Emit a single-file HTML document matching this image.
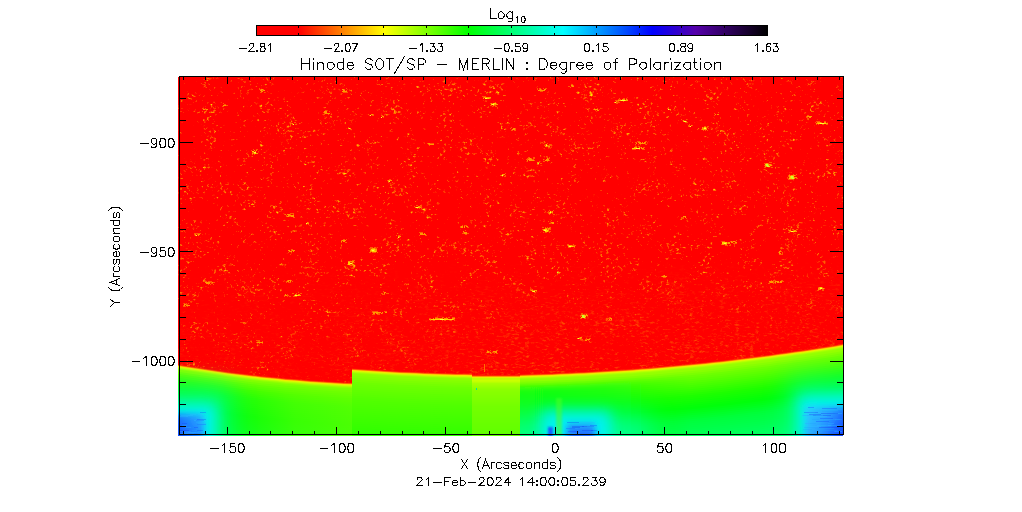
<!DOCTYPE html><html><head><meta charset="utf-8"><title>Hinode SOT/SP</title>
<style>html,body{margin:0;padding:0;background:#fff;overflow:hidden}svg{display:block}text{font-family:"Liberation Sans",sans-serif;fill:#000}</style></head><body>
<svg width="1022" height="512" viewBox="0 0 1022 512" shape-rendering="crispEdges">
<defs>
<linearGradient id="cb" x1="0" y1="0" x2="1" y2="0">
<stop offset="0" stop-color="#ff0000"/>
<stop offset="0.082" stop-color="#ff0000"/>
<stop offset="0.25" stop-color="#ffff00"/>
<stop offset="0.415" stop-color="#00ff00"/>
<stop offset="0.6" stop-color="#00ffff"/>
<stop offset="0.775" stop-color="#0000ff"/>
<stop offset="0.86" stop-color="#5500aa"/>
<stop offset="1" stop-color="#000000"/>
</linearGradient>
<clipPath id="ic"><rect x="178" y="77" width="665" height="359"/></clipPath>
<path id="s1" d="M178.0 366.16 L186.3 367.53 L194.6 368.85 L202.9 370.12 L211.1 371.34 L219.4 372.52 L227.7 373.64 L236.0 374.71 L244.3 375.74 L252.6 376.71 L260.9 377.64 L269.1 378.52 L277.4 379.35 L285.7 380.13 L294.0 380.85 L302.3 381.54 L310.6 382.17 L318.9 382.75 L327.1 383.28 L335.4 383.76 L343.7 384.20 L352.0 384.58 L352 700 L178 700Z"/>
<path id="s2" d="M352.0 370.16 L360.0 370.74 L368.0 371.28 L376.0 371.79 L384.0 372.27 L392.0 372.72 L400.0 373.13 L408.0 373.51 L416.0 373.86 L424.0 374.18 L432.0 374.47 L440.0 374.72 L448.0 374.94 L456.0 375.13 L464.0 375.29 L472.0 375.41 L472 700 L352 700Z"/>
<path id="s3" d="M472.0 377.00 L480.0 377.00 L488.0 377.00 L496.0 377.00 L504.0 377.00 L512.0 377.00 L520.0 377.00 L520 700 L472 700Z"/>
<path id="s4" d="M520.0 376.17 L528.1 375.96 L536.1 375.73 L544.2 375.46 L552.3 375.17 L560.4 374.84 L568.5 374.49 L576.5 374.11 L584.6 373.70 L592.7 373.26 L600.8 372.80 L608.8 372.30 L616.9 371.78 L625.0 371.23 L633.0 370.65 L641.1 370.04 L649.2 369.40 L657.3 368.74 L665.4 368.04 L673.4 367.32 L681.5 366.57 L689.6 365.79 L697.6 364.98 L705.7 364.14 L713.8 363.28 L721.9 362.39 L730.0 361.46 L738.0 360.51 L746.1 359.53 L754.2 358.52 L762.2 357.49 L770.3 356.42 L778.4 355.33 L786.5 354.21 L794.5 353.06 L802.6 351.88 L810.7 350.67 L818.8 349.43 L826.9 348.17 L834.9 346.88 L843.0 345.55 L843 700 L520 700Z"/>
<filter id="nz" x="0" y="0" width="1" height="1" color-interpolation-filters="sRGB"><feTurbulence type="fractalNoise" baseFrequency="0.3 0.36" numOctaves="3" seed="7"/><feColorMatrix values="1 0 0 0 0 0 1 0 0 0 0 0 1 0 0 0 0 0 0 1" result="a"/><feTurbulence type="fractalNoise" baseFrequency="0.05" numOctaves="2" seed="27"/><feColorMatrix values="1 0 0 0 0 0 1 0 0 0 0 0 1 0 0 0 0 0 0 1" result="b"/><feComposite in="a" in2="b" operator="arithmetic" k1="0" k2="1" k3="0.5" k4="-0.25"/><feColorMatrix values="0 0 0 0 1  2.6 0 0 0 -1.73  0 0 0 0 0  0 0 0 0 1"/></filter>
<filter id="nz2" x="0" y="0" width="1" height="1" color-interpolation-filters="sRGB"><feTurbulence type="fractalNoise" baseFrequency="0.2 0.45" numOctaves="3" seed="3"/><feColorMatrix values="1 0 0 0 0 0 1 0 0 0 0 0 1 0 0 0 0 0 0 1" result="a"/><feTurbulence type="fractalNoise" baseFrequency="0.03" numOctaves="2" seed="23"/><feColorMatrix values="1 0 0 0 0 0 1 0 0 0 0 0 1 0 0 0 0 0 0 1" result="b"/><feComposite in="a" in2="b" operator="arithmetic" k1="0" k2="1" k3="0.3" k4="-0.15"/><feColorMatrix values="0 0 0 0 1  1.1 0 0 0 -0.62  0 0 0 0 0  0 0 0 0 1"/></filter>
<linearGradient id="fade" x1="0" y1="0" x2="0" y2="1"><stop offset="0" stop-color="#fff" stop-opacity="0"/><stop offset="0.6" stop-color="#fff" stop-opacity="0.8"/><stop offset="1" stop-color="#fff" stop-opacity="1"/></linearGradient>
<linearGradient id="hf" x1="0" y1="0" x2="1" y2="0"><stop offset="0" stop-color="#000" stop-opacity="0.8"/><stop offset="0.3" stop-color="#000" stop-opacity="0.6"/><stop offset="0.6" stop-color="#000" stop-opacity="0"/></linearGradient>
<mask id="mk" maskUnits="userSpaceOnUse" x="178" y="260" width="665" height="140"><rect x="178" y="260" width="665" height="140" fill="url(#fade)"/><rect x="178" y="260" width="665" height="140" fill="url(#hf)"/></mask>
<radialGradient id="bl" cx="0" cy="0" r="1" gradientTransform="translate(176 440) scale(64 64)" gradientUnits="userSpaceOnUse"><stop offset="0" stop-color="#1020ff" stop-opacity="1"/><stop offset="0.3" stop-color="#1048ff" stop-opacity="1"/><stop offset="0.44" stop-color="#0890ff" stop-opacity="1"/><stop offset="0.56" stop-color="#00e0ff" stop-opacity="0.95"/><stop offset="0.7" stop-color="#00ffc0" stop-opacity="0.7"/><stop offset="0.85" stop-color="#00ff70" stop-opacity="0.35"/><stop offset="1" stop-color="#00ff40" stop-opacity="0"/></radialGradient>
<radialGradient id="br" cx="0" cy="0" r="1" gradientTransform="translate(847 441) scale(88 78)" gradientUnits="userSpaceOnUse"><stop offset="0" stop-color="#1020ff" stop-opacity="1"/><stop offset="0.3" stop-color="#1040ff" stop-opacity="1"/><stop offset="0.45" stop-color="#0880ff" stop-opacity="1"/><stop offset="0.56" stop-color="#00d8ff" stop-opacity="0.95"/><stop offset="0.68" stop-color="#00ffd0" stop-opacity="0.75"/><stop offset="0.84" stop-color="#00ff80" stop-opacity="0.35"/><stop offset="1" stop-color="#00ff40" stop-opacity="0"/></radialGradient>
<radialGradient id="bm" cx="0" cy="0" r="1" gradientTransform="translate(579 441) scale(52 46)" gradientUnits="userSpaceOnUse"><stop offset="0" stop-color="#1028ff" stop-opacity="1"/><stop offset="0.22" stop-color="#1050ff" stop-opacity="1"/><stop offset="0.36" stop-color="#0890ff" stop-opacity="1"/><stop offset="0.5" stop-color="#00e0ff" stop-opacity="0.9"/><stop offset="0.66" stop-color="#00ffc8" stop-opacity="0.65"/><stop offset="0.84" stop-color="#00ff80" stop-opacity="0.3"/><stop offset="1" stop-color="#00ff40" stop-opacity="0"/></radialGradient>
<radialGradient id="bm2" cx="0" cy="0" r="1" gradientTransform="translate(550 440) scale(16 30)" gradientUnits="userSpaceOnUse"><stop offset="0" stop-color="#1040ff" stop-opacity="1"/><stop offset="0.3" stop-color="#1070ff" stop-opacity="1"/><stop offset="0.55" stop-color="#00d0ff" stop-opacity="0.8"/><stop offset="1" stop-color="#00ffa0" stop-opacity="0"/></radialGradient>
<linearGradient id="le" x1="0" y1="0" x2="1" y2="0"><stop offset="0" stop-color="#00ffb0" stop-opacity="0.7"/><stop offset="1" stop-color="#00ff60" stop-opacity="0"/></linearGradient>
<linearGradient id="re" x1="1" y1="0" x2="0" y2="0"><stop offset="0" stop-color="#00ffc0" stop-opacity="0.8"/><stop offset="1" stop-color="#00ff60" stop-opacity="0"/></linearGradient>
<linearGradient id="vf" x1="0" y1="0" x2="0" y2="1"><stop offset="0" stop-color="#fff" stop-opacity="0"/><stop offset="1" stop-color="#fff" stop-opacity="1"/></linearGradient>
<mask id="mle" maskUnits="userSpaceOnUse" x="178" y="375" width="30" height="61"><rect x="178" y="375" width="30" height="61" fill="url(#vf)"/></mask>
<mask id="mre" maskUnits="userSpaceOnUse" x="790" y="350" width="53" height="86"><rect x="790" y="350" width="53" height="86" fill="url(#vf)"/></mask>
<filter id="sb" x="-1" y="-1" width="3" height="3"><feGaussianBlur stdDeviation="0.55"/></filter>
</defs>
<rect width="1022" height="512" fill="#fff"/>
<rect x="256" y="25" width="512" height="11" fill="#000"/>
<rect x="257" y="26" width="510" height="9" fill="url(#cb)"/>
<rect x="298" y="25" width="1" height="3" fill="#000"/><rect x="298" y="33" width="1" height="3" fill="#000"/>
<rect x="341" y="25" width="1" height="3" fill="#000"/><rect x="341" y="33" width="1" height="3" fill="#000"/>
<rect x="383" y="25" width="1" height="3" fill="#000"/><rect x="383" y="33" width="1" height="3" fill="#000"/>
<rect x="426" y="25" width="1" height="3" fill="#000"/><rect x="426" y="33" width="1" height="3" fill="#000"/>
<rect x="468" y="25" width="1" height="3" fill="#000"/><rect x="468" y="33" width="1" height="3" fill="#000"/>
<rect x="511" y="25" width="1" height="3" fill="#000"/><rect x="511" y="33" width="1" height="3" fill="#000"/>
<rect x="554" y="25" width="1" height="3" fill="#000"/><rect x="554" y="33" width="1" height="3" fill="#000"/>
<rect x="596" y="25" width="1" height="3" fill="#000"/><rect x="596" y="33" width="1" height="3" fill="#000"/>
<rect x="639" y="25" width="1" height="3" fill="#000"/><rect x="639" y="33" width="1" height="3" fill="#000"/>
<rect x="681" y="25" width="1" height="3" fill="#000"/><rect x="681" y="33" width="1" height="3" fill="#000"/>
<rect x="724" y="25" width="1" height="3" fill="#000"/><rect x="724" y="33" width="1" height="3" fill="#000"/>
<g clip-path="url(#ic)" shape-rendering="geometricPrecision">
<rect x="178" y="77" width="665" height="359" fill="#ff0000"/>
<rect x="178" y="77" width="665" height="359" fill="#f00" filter="url(#nz)"/>
<g mask="url(#mk)"><rect x="178" y="260" width="665" height="140" fill="#f00" filter="url(#nz2)"/></g>
<g shape-rendering="crispEdges" fill="none">
<path d="M252 152.5h2M254 154.5h1M254 150.5h1M257 153.5h1M255 153.5h1M257 149.5h1M253 153.5h1M251 150.5h1M252 154.5h1M254 154.5h1M255 152.5h1M253 153.5h1M256 149.5h2M253 149.5h1M256 149.5h1M257 149.5h1M294 122.5h1M291 123.5h2M295 124.5h2M295 122.5h1M292 124.5h1M329 111.5h1M325 111.5h2M323 114.5h2M324 113.5h1M328 114.5h1M325 113.5h2M326 111.5h1M324 114.5h1M326 113.5h2M326 110.5h1M323 112.5h2M325 110.5h1M224 104.5h2M226 105.5h1M222 106.5h2M223 103.5h1M226 105.5h2M203 109.5h1M205 108.5h1M202 111.5h1M202 108.5h2M204 109.5h1M206 110.5h1M205 109.5h2M372 114.5h2M369 115.5h2M372 115.5h2M368 114.5h1M369 115.5h2M383 117.5h1M383 116.5h1M383 117.5h1M381 115.5h1M382 115.5h1M350 129.5h2M350 128.5h1M348 127.5h1M346 91.5h1M342 91.5h1M343 91.5h1M346 88.5h1M344 89.5h1M343 92.5h1M344 92.5h2M346 92.5h2M346 90.5h1M344 91.5h1M259 89.5h2M262 89.5h2M261 90.5h2M263 89.5h1M259 88.5h1M263 90.5h1M264 92.5h1M260 92.5h2M261 91.5h1M262 91.5h1M392 182.5h1M387 180.5h1M389 180.5h1M389 179.5h1M388 180.5h2M390 179.5h1M388 182.5h1M489 98.5h1M486 97.5h1M486 98.5h2M482 96.5h2M483 97.5h2M483 97.5h1M486 98.5h1M484 96.5h2M489 98.5h2M488 97.5h1M483 97.5h1M490 98.5h1M491 104.5h1M493 105.5h2M495 102.5h1M492 106.5h1M490 105.5h2M492 103.5h2M496 103.5h1M494 105.5h2M495 102.5h1M496 106.5h1M495 106.5h2M495 106.5h1M490 105.5h2M490 103.5h2M491 103.5h2M537 164.5h1M539 161.5h1M540 163.5h2M539 162.5h1M537 164.5h2M503 175.5h1M504 176.5h2M505 173.5h1M500 175.5h2M502 176.5h1M501 175.5h1M505 175.5h1M549 145.5h2M548 145.5h1M545 144.5h1M544 145.5h2M547 143.5h1M548 147.5h1M549 144.5h2M549 146.5h1M548 147.5h2M546 146.5h2M542 91.5h1M539 88.5h1M542 90.5h1M540 88.5h1M539 89.5h1M537 89.5h1M540 88.5h1M545 88.5h2M543 88.5h1M540 89.5h2M537 88.5h1M540 88.5h1M540 91.5h2M545 88.5h1M571 86.5h1M573 85.5h1M570 87.5h1M570 87.5h1M568 86.5h2M571 84.5h2M571 85.5h2M427 143.5h1M428 144.5h1M432 143.5h2M430 143.5h2M429 145.5h1M429 143.5h2M429 145.5h1M429 144.5h2M428 144.5h2M510 128.5h1M511 130.5h2M515 128.5h1M515 130.5h1M515 129.5h1M514 130.5h1M511 127.5h1M616 103.5h2M617 100.5h1M615 100.5h2M616 102.5h1M618 102.5h2M615 102.5h1M617 102.5h2M597 108.5h1M593 109.5h1M597 109.5h1M595 109.5h2M594 108.5h1M598 110.5h1M595 110.5h1M533 160.5h2M528 158.5h2M533 157.5h1M533 157.5h2M533 158.5h2M527 161.5h1M526 159.5h2M528 157.5h2M527 160.5h1M532 159.5h2M532 160.5h1M530 158.5h2M530 158.5h1M527 158.5h1M532 159.5h2M548 159.5h1M548 158.5h2M547 158.5h1M548 158.5h1M549 160.5h1M547 161.5h1M544 161.5h1M543 161.5h2M549 157.5h1M547 157.5h1M547 158.5h2M543 161.5h2M617 100.5h1M622 100.5h2M623 98.5h1M627 99.5h1M619 98.5h1M627 99.5h1M626 99.5h1M626 98.5h1M617 101.5h2M626 99.5h1M623 101.5h1M624 98.5h1M619 99.5h2M623 101.5h1M623 101.5h1M618 99.5h2M686 121.5h1M684 121.5h1M685 122.5h1M687 122.5h1M683 120.5h1M683 121.5h1M686 122.5h1M686 119.5h1M681 119.5h1M705 130.5h1M704 126.5h2M707 127.5h1M707 130.5h1M706 129.5h1M704 127.5h1M703 127.5h1M702 127.5h1M703 130.5h1M705 127.5h2M701 129.5h1M707 126.5h2M688 126.5h2M690 126.5h1M688 125.5h2M689 124.5h1M692 125.5h1M645 141.5h2M640 144.5h1M642 143.5h1M642 143.5h1M643 143.5h1M635 142.5h1M645 144.5h2M637 141.5h2M635 144.5h1M636 142.5h1M639 141.5h1M645 142.5h1M645 142.5h1M640 144.5h1M635 142.5h1M645 143.5h1M639 146.5h1M638 146.5h2M639 149.5h1M635 149.5h1M635 146.5h1M634 148.5h1M641 147.5h1M636 148.5h1M642 148.5h1M633 149.5h1M642 149.5h1M643 147.5h2M634 149.5h2M632 149.5h1M632 148.5h1M643 149.5h2M635 149.5h1M636 146.5h1M637 148.5h2M640 147.5h2M768 166.5h2M765 164.5h1M770 164.5h2M770 162.5h2M768 166.5h2M771 165.5h1M764 165.5h1M764 163.5h1M771 167.5h2M771 162.5h1M769 165.5h2M765 166.5h1M768 163.5h1M768 165.5h1M769 162.5h1M769 166.5h1M764 167.5h2M766 164.5h1M765 165.5h1M765 163.5h1M794 178.5h1M790 179.5h1M789 177.5h1M793 179.5h1M789 178.5h1M789 176.5h1M791 179.5h2M789 174.5h1M788 179.5h2M793 174.5h1M789 178.5h1M796 178.5h2M796 174.5h1M792 178.5h1M788 176.5h2M795 175.5h1M788 175.5h2M796 177.5h1M795 175.5h1M791 175.5h1M790 175.5h1M793 179.5h1M794 178.5h1M823 124.5h1M826 123.5h1M818 121.5h1M818 121.5h1M817 121.5h1M822 124.5h2M824 123.5h1M827 124.5h1M821 122.5h1M824 121.5h2M818 121.5h2M818 124.5h1M818 122.5h2M816 121.5h2M816 124.5h1M826 124.5h1M815 122.5h1M823 124.5h1M817 121.5h1M821 122.5h1M670 110.5h1M667 108.5h2M668 107.5h1M668 108.5h1M668 107.5h1M717 114.5h2M718 112.5h1M714 113.5h1M714 115.5h1M714 115.5h1M806 117.5h2M808 115.5h1M807 117.5h1M806 116.5h1M807 115.5h1M807 118.5h2M808 115.5h1M194 234.5h1M199 233.5h2M197 233.5h1M198 233.5h1M194 233.5h1M195 233.5h2M197 234.5h1M307 222.5h1M308 222.5h1M307 222.5h2M308 224.5h1M306 224.5h1M370 247.5h1M372 249.5h1M374 248.5h2M369 252.5h2M373 250.5h1M370 248.5h1M374 248.5h1M374 247.5h2M370 248.5h2M374 247.5h2M371 247.5h2M370 249.5h2M374 252.5h2M370 250.5h1M377 252.5h1M369 248.5h1M369 252.5h2M372 252.5h2M370 248.5h1M374 250.5h1M376 248.5h1M372 250.5h1M373 250.5h1M351 261.5h1M352 265.5h1M351 263.5h1M353 260.5h2M353 264.5h1M348 263.5h2M350 265.5h1M352 260.5h2M351 261.5h2M353 262.5h2M352 261.5h1M350 264.5h1M347 264.5h2M349 261.5h1M352 264.5h2M351 265.5h2M291 250.5h1M290 251.5h1M291 251.5h1M293 250.5h2M291 249.5h2M294 250.5h1M292 250.5h1M288 252.5h1M291 249.5h1M291 252.5h1M293 251.5h1M288 280.5h1M286 281.5h1M289 282.5h1M287 280.5h1M286 282.5h1M288 282.5h2M291 280.5h1M286 281.5h1M288 280.5h2M292 281.5h1M289 282.5h2M293 296.5h2M293 296.5h2M295 296.5h2M293 293.5h1M300 293.5h2M296 293.5h1M297 295.5h1M292 293.5h1M296 295.5h1M293 296.5h1M295 294.5h2M300 293.5h2M284 295.5h2M287 296.5h1M287 294.5h1M286 295.5h1M289 296.5h2M284 296.5h1M288 295.5h1M289 296.5h2M287 295.5h1M249 205.5h1M252 203.5h1M253 206.5h2M249 206.5h1M248 203.5h2M249 205.5h1M248 203.5h2M208 284.5h1M211 282.5h1M206 281.5h1M204 281.5h2M211 283.5h1M208 281.5h1M205 281.5h1M211 281.5h1M213 284.5h1M210 282.5h1M209 281.5h2M212 283.5h1M213 282.5h2M210 284.5h1M345 242.5h2M343 239.5h2M345 242.5h1M343 241.5h1M344 241.5h1M346 239.5h1M341 242.5h1M341 240.5h1M342 240.5h2M289 215.5h1M293 214.5h1M292 215.5h2M289 214.5h1M289 216.5h2M293 217.5h2M286 215.5h1M289 214.5h2M291 213.5h2M286 216.5h2M289 216.5h1M288 216.5h2M293 213.5h1M293 215.5h1M290 213.5h1M549 229.5h2M547 230.5h1M549 228.5h2M549 227.5h1M545 232.5h2M545 232.5h1M547 231.5h2M548 231.5h2M546 229.5h2M549 227.5h2M542 227.5h2M543 232.5h1M545 227.5h1M549 231.5h2M542 229.5h2M549 232.5h1M547 227.5h1M542 227.5h1M547 228.5h1M545 232.5h1M548 212.5h1M549 213.5h1M553 214.5h2M548 211.5h1M548 213.5h2M553 210.5h1M549 214.5h1M552 213.5h1M551 211.5h1M549 210.5h1M550 223.5h1M552 223.5h2M552 222.5h1M549 223.5h1M548 221.5h1M549 223.5h1M549 223.5h1M568 247.5h2M574 245.5h2M568 247.5h2M572 245.5h2M567 245.5h2M567 244.5h2M570 247.5h1M567 244.5h1M567 244.5h1M574 247.5h1M573 244.5h1M416 205.5h1M419 208.5h1M418 206.5h1M421 207.5h1M416 205.5h1M416 205.5h2M417 208.5h1M420 206.5h2M421 205.5h1M421 208.5h1M414 206.5h1M464 225.5h2M464 227.5h1M464 225.5h2M460 227.5h2M462 227.5h1M467 227.5h2M467 227.5h1M460 226.5h2M466 226.5h2M462 225.5h1M466 225.5h1M462 233.5h1M465 232.5h1M462 233.5h1M463 232.5h2M465 230.5h1M466 233.5h2M466 234.5h1M463 233.5h1M467 233.5h2M465 234.5h1M421 233.5h1M425 234.5h1M419 235.5h1M425 235.5h2M420 234.5h1M422 232.5h1M419 232.5h1M424 234.5h1M425 234.5h1M420 232.5h2M419 232.5h2M532 289.5h1M534 291.5h1M534 292.5h2M530 289.5h1M533 290.5h1M536 291.5h1M535 290.5h1M531 290.5h1M530 290.5h1M558 273.5h1M557 271.5h2M559 272.5h2M398 237.5h1M397 238.5h1M399 237.5h1M398 235.5h2M396 235.5h1M727 243.5h1M729 245.5h1M726 243.5h1M730 245.5h1M730 244.5h1M727 245.5h1M729 245.5h2M730 241.5h1M727 242.5h1M722 241.5h1M724 244.5h1M730 245.5h1M723 241.5h1M723 241.5h2M726 245.5h1M727 245.5h1M728 242.5h1M725 242.5h1M725 245.5h2M721 244.5h1M735 243.5h1M736 240.5h1M730 241.5h2M732 241.5h1M736 243.5h1M735 241.5h1M735 242.5h1M733 243.5h1M733 243.5h2M788 229.5h1M788 232.5h2M788 230.5h1M789 231.5h2M791 231.5h1M790 229.5h1M792 229.5h2M790 229.5h1M796 229.5h2M789 231.5h1M793 230.5h1M792 229.5h1M822 289.5h2M818 287.5h1M819 289.5h2M817 290.5h2M822 287.5h1M823 289.5h1M818 289.5h2M822 288.5h2M823 288.5h2M823 288.5h1M818 289.5h1M822 290.5h2M681 217.5h1M682 217.5h1M681 218.5h1M683 216.5h2M682 217.5h2M686 218.5h1M682 218.5h2M782 254.5h1M779 253.5h1M780 250.5h1M779 254.5h1M781 251.5h1M782 252.5h1M780 254.5h2M779 254.5h1M782 253.5h1M778 252.5h2M771 280.5h1M774 280.5h1M772 281.5h2M780 282.5h1M769 283.5h1M769 282.5h2M769 281.5h2M773 282.5h1M768 283.5h1M773 280.5h2M781 280.5h2M773 282.5h1M774 282.5h2M779 282.5h1M773 283.5h1M771 282.5h2M768 283.5h1M782 281.5h2M774 282.5h2M775 283.5h1M770 282.5h1M769 281.5h2M773 280.5h2M663 277.5h1M663 275.5h1M665 277.5h1M665 276.5h2M661 276.5h1M663 277.5h1M664 277.5h2M373 311.5h1M374 311.5h1M377 314.5h1M373 314.5h2M381 313.5h2M379 314.5h1M378 312.5h1M373 313.5h1M372 312.5h2M384 311.5h1M385 311.5h2M378 313.5h2M372 314.5h1M375 311.5h2M380 312.5h1M384 311.5h1M379 313.5h1M381 313.5h1M372 311.5h1M382 312.5h1M374 313.5h1M377 311.5h1M377 314.5h2M435 317.5h1M448 319.5h1M448 317.5h2M454 318.5h1M454 317.5h1M447 319.5h2M451 320.5h1M438 319.5h1M436 319.5h1M444 319.5h1M450 319.5h1M436 317.5h2M436 318.5h1M437 319.5h1M434 320.5h1M442 320.5h1M440 318.5h1M452 319.5h1M444 319.5h1M430 320.5h1M434 319.5h1M442 317.5h2M454 319.5h1M433 318.5h1M434 320.5h1M429 318.5h2M446 317.5h1M435 317.5h1M442 318.5h1M453 317.5h2M454 320.5h1M433 320.5h2M444 318.5h2M444 320.5h2M452 317.5h1M453 318.5h2M437 319.5h1M433 319.5h1M430 319.5h1M438 319.5h1M440 319.5h2M452 319.5h1M446 319.5h1M433 319.5h1M434 320.5h1M257 342.5h1M261 342.5h1M262 343.5h1M262 341.5h1M257 340.5h2M258 341.5h2M256 340.5h2M259 340.5h1M259 343.5h1M492 352.5h2M486 352.5h1M494 352.5h2M490 353.5h2M494 353.5h1M493 352.5h1M490 350.5h1M488 352.5h2M493 352.5h2M489 351.5h1M496 350.5h1M486 352.5h1M496 350.5h2M488 352.5h2M487 350.5h1M496 353.5h2M188 303.5h1M185 306.5h1M186 303.5h1M183 306.5h2M186 304.5h2M187 306.5h1M184 303.5h1M184 306.5h1M183 305.5h1M188 305.5h1M183 305.5h1M381 293.5h1M383 294.5h1M387 293.5h2M383 291.5h1M381 293.5h2M386 293.5h1M384 294.5h1M384 294.5h1M382 294.5h1M584 317.5h1M585 315.5h1M586 314.5h1M582 316.5h1M584 314.5h1M581 313.5h2M580 318.5h2M584 318.5h1M584 314.5h1M580 315.5h2M581 314.5h2M580 316.5h1M587 316.5h1M586 314.5h1M583 315.5h1M585 318.5h1M583 314.5h1M584 317.5h2M584 318.5h1M583 316.5h1M610 320.5h2M607 318.5h2M608 320.5h1M606 319.5h2M608 318.5h2M609 317.5h2M606 320.5h1M606 318.5h1M609 320.5h1M581 339.5h2M581 338.5h1M581 337.5h1M579 338.5h1M580 339.5h1M580 339.5h1M579 337.5h2M588 340.5h1M585 339.5h2M589 338.5h2M585 340.5h2M589 341.5h1M588 340.5h1M586 338.5h1" stroke="#ff5800" stroke-width="1"/>
<path d="M253 152.5h2M255 151.5h1M252 153.5h1M252 151.5h1M256 150.5h1M256 153.5h2M253 152.5h1M256 153.5h2M254 153.5h2M254 153.5h2M254 150.5h1M293 124.5h1M292 123.5h1M325 111.5h2M324 112.5h1M325 113.5h2M324 112.5h1M328 113.5h2M324 111.5h2M325 112.5h2M327 113.5h2M223 105.5h2M225 105.5h1M204 109.5h1M206 109.5h1M203 109.5h2M206 109.5h2M370 115.5h1M371 114.5h2M382 116.5h2M382 116.5h2M350 128.5h1M348 128.5h2M344 91.5h2M342 89.5h2M343 90.5h2M343 89.5h1M342 91.5h2M345 91.5h2M263 90.5h2M261 91.5h2M262 89.5h1M261 89.5h2M262 89.5h1M260 90.5h2M389 180.5h2M388 180.5h1M391 180.5h1M388 181.5h2M484 97.5h2M483 98.5h1M484 97.5h2M487 97.5h1M488 98.5h2M486 97.5h2M489 97.5h2M488 97.5h1M495 104.5h2M491 103.5h1M496 104.5h2M494 103.5h1M493 103.5h2M494 103.5h2M494 104.5h1M495 104.5h1M491 104.5h2M493 105.5h1M537 162.5h2M537 163.5h2M502 174.5h2M501 175.5h1M502 174.5h2M504 174.5h1M545 146.5h2M546 145.5h2M548 146.5h2M546 145.5h1M545 146.5h2M546 146.5h1M542 90.5h2M544 89.5h2M538 90.5h2M540 89.5h1M542 90.5h2M540 90.5h2M543 90.5h2M544 90.5h1M539 90.5h1M571 85.5h1M572 86.5h2M572 85.5h1M572 85.5h1M428 143.5h1M430 144.5h2M429 144.5h1M432 144.5h2M429 143.5h1M512 129.5h1M514 128.5h1M513 128.5h1M513 129.5h2M616 101.5h1M614 102.5h1M614 102.5h1M615 102.5h1M597 110.5h2M594 109.5h2M596 109.5h2M597 109.5h1M529 159.5h2M531 160.5h1M529 160.5h1M527 160.5h1M528 159.5h2M530 159.5h1M532 160.5h2M529 158.5h2M529 160.5h2M531 159.5h1M548 160.5h1M547 160.5h2M547 159.5h1M547 158.5h1M546 159.5h2M545 160.5h2M547 159.5h2M548 160.5h1M626 99.5h1M619 100.5h1M619 100.5h2M626 100.5h2M622 99.5h2M618 100.5h1M623 100.5h1M623 99.5h2M624 100.5h2M625 100.5h1M624 99.5h1M685 121.5h2M684 121.5h1M686 121.5h1M683 120.5h1M683 121.5h2M704 127.5h1M705 128.5h2M704 127.5h2M705 129.5h2M702 127.5h1M702 128.5h2M704 129.5h2M702 129.5h2M691 125.5h1M689 126.5h2M642 143.5h2M641 143.5h2M639 142.5h2M644 142.5h2M639 143.5h2M639 143.5h2M638 142.5h1M636 143.5h1M643 143.5h2M644 142.5h2M642 142.5h1M632 148.5h2M636 148.5h1M634 147.5h2M636 148.5h1M634 147.5h1M635 147.5h2M633 148.5h1M641 147.5h1M639 147.5h1M642 148.5h2M641 147.5h1M639 148.5h1M634 147.5h1M641 148.5h1M765 164.5h1M770 164.5h1M768 166.5h1M767 166.5h1M766 163.5h2M765 166.5h1M767 165.5h2M765 164.5h2M766 166.5h2M766 166.5h2M765 165.5h1M768 164.5h2M769 166.5h1M770 165.5h2M789 175.5h1M792 175.5h2M789 177.5h1M791 178.5h1M793 178.5h1M789 177.5h1M793 175.5h2M794 175.5h1M789 176.5h2M794 177.5h2M791 176.5h1M795 177.5h2M794 178.5h1M791 175.5h2M792 177.5h1M793 177.5h1M824 122.5h1M817 123.5h2M817 122.5h2M816 123.5h1M820 122.5h1M819 122.5h1M824 123.5h2M826 123.5h1M819 122.5h1M825 123.5h2M823 123.5h2M824 122.5h2M826 123.5h2M825 123.5h2M669 109.5h1M669 109.5h2M717 114.5h2M715 114.5h1M809 117.5h2M807 116.5h2M808 116.5h2M810 116.5h2M198 234.5h2M198 235.5h1M195 234.5h1M195 235.5h2M307 222.5h1M307 223.5h2M371 251.5h1M372 248.5h2M372 251.5h2M374 251.5h2M371 249.5h1M370 250.5h1M370 251.5h2M375 249.5h1M371 251.5h1M374 248.5h1M371 251.5h1M371 249.5h2M376 251.5h1M372 251.5h1M376 249.5h1M375 250.5h2M348 262.5h2M350 261.5h2M351 261.5h1M348 261.5h2M352 261.5h2M349 263.5h2M350 261.5h2M352 262.5h1M349 261.5h2M352 264.5h2M352 263.5h1M290 251.5h2M288 250.5h1M289 251.5h1M288 250.5h2M293 251.5h1M293 250.5h2M292 250.5h2M288 280.5h1M288 280.5h2M290 281.5h1M287 281.5h2M288 280.5h2M288 280.5h1M289 280.5h2M298 294.5h1M294 295.5h2M295 294.5h1M296 295.5h1M298 294.5h2M295 295.5h1M299 295.5h2M299 295.5h1M285 294.5h1M285 295.5h2M285 294.5h1M286 295.5h1M285 295.5h2M252 204.5h1M252 204.5h2M252 204.5h1M251 204.5h1M205 282.5h1M206 283.5h2M208 283.5h2M207 282.5h1M207 283.5h1M212 282.5h1M206 282.5h2M208 283.5h1M208 282.5h2M344 240.5h2M341 241.5h1M343 241.5h2M344 240.5h1M342 240.5h2M289 215.5h2M291 216.5h2M288 215.5h1M289 215.5h2M288 214.5h2M292 216.5h2M292 215.5h2M291 215.5h2M287 216.5h2M287 214.5h1M547 230.5h2M548 228.5h2M548 230.5h1M544 229.5h2M543 230.5h2M543 229.5h1M543 229.5h1M548 229.5h1M544 229.5h1M548 228.5h2M543 229.5h2M544 229.5h2M545 228.5h2M545 231.5h2M549 213.5h2M549 212.5h1M552 211.5h1M552 212.5h1M550 212.5h2M551 212.5h1M552 223.5h1M552 223.5h2M552 222.5h2M551 222.5h1M568 246.5h2M569 245.5h1M568 245.5h2M569 246.5h2M573 246.5h1M570 245.5h2M573 246.5h2M419 207.5h2M415 207.5h1M415 207.5h2M418 207.5h2M418 207.5h1M419 207.5h1M418 206.5h2M464 226.5h1M466 226.5h1M461 226.5h2M464 227.5h1M461 227.5h2M466 226.5h2M461 226.5h1M464 232.5h1M465 232.5h2M465 232.5h1M463 231.5h1M465 233.5h2M464 233.5h2M424 233.5h1M420 234.5h2M422 234.5h2M421 233.5h2M425 234.5h1M420 233.5h1M423 234.5h2M534 290.5h2M532 291.5h1M532 291.5h1M535 290.5h2M531 290.5h2M558 272.5h2M558 272.5h2M398 236.5h2M399 236.5h2M725 243.5h1M724 243.5h2M729 243.5h1M728 242.5h2M729 242.5h1M723 243.5h1M728 243.5h1M725 242.5h1M723 243.5h2M726 244.5h1M722 244.5h2M728 243.5h1M725 244.5h1M723 242.5h2M733 241.5h1M731 242.5h2M731 241.5h1M735 242.5h2M733 241.5h2M789 230.5h1M790 231.5h2M793 231.5h2M793 231.5h2M795 231.5h2M794 230.5h2M794 231.5h2M790 230.5h1M819 289.5h2M818 289.5h2M819 287.5h1M819 287.5h1M819 289.5h2M818 288.5h2M820 288.5h2M822 288.5h2M683 216.5h1M684 216.5h2M685 217.5h1M685 217.5h1M779 253.5h1M780 251.5h1M779 252.5h1M779 253.5h2M780 253.5h1M779 251.5h1M776 281.5h2M778 281.5h1M770 281.5h2M770 281.5h2M780 281.5h2M777 281.5h1M770 282.5h1M775 281.5h1M778 282.5h1M777 282.5h2M772 281.5h1M771 282.5h2M775 282.5h1M769 281.5h1M780 282.5h2M777 282.5h2M662 276.5h2M664 275.5h1M663 276.5h2M665 276.5h2M376 313.5h1M385 312.5h2M375 312.5h2M376 313.5h2M379 312.5h1M385 312.5h1M381 313.5h1M373 313.5h2M376 312.5h1M375 312.5h2M377 312.5h2M373 312.5h1M374 312.5h2M379 312.5h2M373 313.5h2M382 312.5h1M439 318.5h2M452 319.5h2M443 319.5h1M438 319.5h1M437 319.5h2M453 318.5h2M438 318.5h1M436 319.5h1M443 319.5h2M452 318.5h1M439 318.5h2M441 319.5h2M436 318.5h1M452 318.5h2M441 318.5h1M445 318.5h1M452 318.5h1M433 318.5h1M439 318.5h2M435 318.5h1M436 319.5h2M432 319.5h2M447 318.5h1M441 318.5h2M444 318.5h1M436 318.5h2M450 319.5h2M439 318.5h2M437 319.5h1M433 319.5h1M446 318.5h2M442 318.5h1M429 319.5h2M257 342.5h2M259 342.5h2M260 342.5h1M261 342.5h2M260 342.5h2M493 351.5h2M490 352.5h1M495 352.5h2M494 351.5h2M495 351.5h2M490 352.5h1M490 352.5h1M488 351.5h1M487 352.5h2M487 351.5h1M495 351.5h1M184 304.5h2M186 305.5h1M188 305.5h2M186 305.5h1M187 305.5h2M184 305.5h1M187 305.5h1M384 292.5h1M384 293.5h1M384 292.5h2M384 293.5h1M385 292.5h1M582 316.5h2M586 315.5h1M586 315.5h1M581 315.5h1M586 315.5h2M583 317.5h1M586 314.5h1M582 315.5h1M584 316.5h1M586 314.5h1M581 317.5h1M585 315.5h1M581 317.5h2M581 317.5h2M611 318.5h1M611 318.5h1M610 318.5h1M609 319.5h1M611 319.5h1M579 338.5h2M580 337.5h2M580 337.5h1M577 338.5h2M585 340.5h2M587 339.5h2M587 339.5h2M588 339.5h2" stroke="#ff9800" stroke-width="1"/>
<path d="M252 151.5h2M254 152.5h2M254 153.5h2M293 124.5h1M370 115.5h1M381 117.5h1M349 128.5h1M389 181.5h1M485 98.5h4M493 103.5h3M491 104.5h3M538 163.5h1M502 175.5h1M546 144.5h1M546 145.5h1M615 102.5h1M620 100.5h6M684 121.5h2M704 127.5h2M704 128.5h2M690 126.5h1M632 148.5h8M765 164.5h3M766 165.5h3M767 166.5h3M790 176.5h4M790 177.5h4M789 178.5h4M818 123.5h8M668 109.5h1M196 235.5h1M306 223.5h1M371 249.5h4M371 250.5h4M372 251.5h4M348 262.5h2M348 263.5h2M348 264.5h2M295 295.5h4M544 229.5h3M545 230.5h3M545 231.5h3M550 211.5h1M550 212.5h1M570 246.5h3M416 207.5h3M532 291.5h2M557 272.5h1M398 237.5h1M722 242.5h5M722 243.5h5M791 231.5h4M820 287.5h2M820 288.5h2M431 319.5h22M582 315.5h3M583 316.5h3M581 317.5h3M578 338.5h1" stroke="#ffd000" stroke-width="1"/>
<path d="M254 152.5h2M293 124.5h1M370 115.5h1M381 117.5h1M349 128.5h1M389 181.5h1M485 98.5h2M492 104.5h2M502 175.5h1M546 145.5h1M615 102.5h1M621 100.5h4M684 121.5h2M704 128.5h2M690 126.5h1M636 148.5h4M820 123.5h4M668 109.5h1M196 235.5h1M306 223.5h1M372 250.5h2M350 263.5h2M295 295.5h2M544 230.5h2M550 212.5h1M569 246.5h2M416 207.5h2M533 291.5h2M398 237.5h1M724 243.5h2M791 231.5h2M820 288.5h2M440 319.5h4M578 338.5h1" stroke="#ffff30" stroke-width="1"/>
<path d="M538 163.5h1M766 165.5h2M766 164.5h2M767 166.5h2M791 177.5h2M791 176.5h2M792 178.5h2M557 272.5h1M582 316.5h2M582 315.5h2M583 317.5h2" stroke="#c8ff30" stroke-width="1"/>
</g>
<rect x="484" y="364" width="1" height="8" fill="#ff7000"/>
<use href="#s1" y="-1.75" fill="#ff1e00"/>
<use href="#s1" y="-1.25" fill="#ff5000"/>
<use href="#s1" y="-0.75" fill="#ff9100"/>
<use href="#s1" y="-0.25" fill="#ffdc00"/>
<use href="#s1" y="0.25" fill="#edf200"/>
<use href="#s1" y="0.75" fill="#d6fb00"/>
<use href="#s1" y="1.25" fill="#c2ff00"/>
<use href="#s1" y="1.75" fill="#afff00"/>
<use href="#s1" y="2.5" fill="#93ff00"/>
<use href="#s1" y="3.5" fill="#84ff00"/>
<use href="#s1" y="5.5" fill="#70ff00"/>
<use href="#s1" y="7.5" fill="#5dff00"/>
<use href="#s1" y="9.5" fill="#50ff00"/>
<use href="#s1" y="11.5" fill="#43ff00"/>
<use href="#s1" y="13.5" fill="#36ff00"/>
<use href="#s1" y="15.5" fill="#2eff02"/>
<use href="#s1" y="17.5" fill="#25ff04"/>
<use href="#s1" y="19.5" fill="#1dff06"/>
<use href="#s1" y="21.5" fill="#16ff08"/>
<use href="#s1" y="23.5" fill="#13ff08"/>
<use href="#s1" y="25.5" fill="#11ff08"/>
<use href="#s1" y="27.5" fill="#0eff09"/>
<use href="#s1" y="29.5" fill="#0cff09"/>
<use href="#s1" y="31.5" fill="#09ff09"/>
<use href="#s1" y="33.5" fill="#07ff09"/>
<use href="#s1" y="35.5" fill="#05ff0a"/>
<use href="#s1" y="37.5" fill="#02ff0a"/>
<use href="#s1" y="39.5" fill="#00ff0a"/>
<use href="#s1" y="41.5" fill="#00ff0c"/>
<use href="#s1" y="43.5" fill="#00ff0e"/>
<use href="#s1" y="45.5" fill="#00ff10"/>
<use href="#s1" y="47.5" fill="#00ff12"/>
<use href="#s1" y="49.5" fill="#00ff14"/>
<use href="#s1" y="51.5" fill="#00ff16"/>
<use href="#s1" y="53.5" fill="#00ff18"/>
<use href="#s1" y="55.5" fill="#00ff1a"/>
<use href="#s1" y="57.5" fill="#00ff1c"/>
<use href="#s1" y="59.5" fill="#00ff1e"/>
<use href="#s1" y="61.5" fill="#00ff20"/>
<use href="#s1" y="63.5" fill="#00ff22"/>
<use href="#s1" y="65.5" fill="#00ff24"/>
<use href="#s1" y="67.5" fill="#00ff26"/>
<use href="#s1" y="69.5" fill="#00ff28"/>
<use href="#s1" y="71.5" fill="#00ff28"/>
<use href="#s1" y="73.5" fill="#00ff28"/>
<use href="#s1" y="75.5" fill="#00ff28"/>
<use href="#s1" y="77.5" fill="#00ff28"/>
<use href="#s1" y="79.5" fill="#00ff28"/>
<use href="#s1" y="81.5" fill="#00ff28"/>
<use href="#s1" y="83.5" fill="#00ff28"/>
<use href="#s1" y="85.5" fill="#00ff28"/>
<use href="#s1" y="87.5" fill="#00ff28"/>
<use href="#s1" y="89.5" fill="#00ff28"/>
<use href="#s1" y="91.5" fill="#00ff28"/>
<use href="#s1" y="93.5" fill="#00ff28"/>
<use href="#s1" y="95.5" fill="#00ff28"/>
<use href="#s1" y="97.5" fill="#00ff28"/>
<use href="#s1" y="99.5" fill="#00ff28"/>
<use href="#s1" y="101.5" fill="#00ff28"/>
<use href="#s2" y="-1.75" fill="#ff1e00"/>
<use href="#s2" y="-1.25" fill="#ff5000"/>
<use href="#s2" y="-0.75" fill="#ff9100"/>
<use href="#s2" y="-0.25" fill="#ffdc00"/>
<use href="#s2" y="0.25" fill="#edf200"/>
<use href="#s2" y="0.75" fill="#d6fb00"/>
<use href="#s2" y="1.25" fill="#c2ff00"/>
<use href="#s2" y="1.75" fill="#afff00"/>
<use href="#s2" y="2.5" fill="#95ff00"/>
<use href="#s2" y="3.5" fill="#8bff00"/>
<use href="#s2" y="5.5" fill="#84ff00"/>
<use href="#s2" y="7.5" fill="#7cff00"/>
<use href="#s2" y="9.5" fill="#75ff00"/>
<use href="#s2" y="11.5" fill="#6eff00"/>
<use href="#s2" y="13.5" fill="#6aff00"/>
<use href="#s2" y="15.5" fill="#67ff00"/>
<use href="#s2" y="17.5" fill="#64ff00"/>
<use href="#s2" y="19.5" fill="#60ff00"/>
<use href="#s2" y="21.5" fill="#5dff00"/>
<use href="#s2" y="23.5" fill="#5aff00"/>
<use href="#s2" y="25.5" fill="#56ff00"/>
<use href="#s2" y="27.5" fill="#53ff00"/>
<use href="#s2" y="29.5" fill="#50ff00"/>
<use href="#s2" y="31.5" fill="#4eff00"/>
<use href="#s2" y="33.5" fill="#4cff00"/>
<use href="#s2" y="35.5" fill="#4aff00"/>
<use href="#s2" y="37.5" fill="#48ff00"/>
<use href="#s2" y="39.5" fill="#46ff00"/>
<use href="#s2" y="41.5" fill="#44ff00"/>
<use href="#s2" y="43.5" fill="#42ff00"/>
<use href="#s2" y="45.5" fill="#40ff00"/>
<use href="#s2" y="47.5" fill="#3eff00"/>
<use href="#s2" y="49.5" fill="#3cff00"/>
<use href="#s2" y="51.5" fill="#3aff00"/>
<use href="#s2" y="53.5" fill="#38ff00"/>
<use href="#s2" y="55.5" fill="#36ff00"/>
<use href="#s2" y="57.5" fill="#34ff00"/>
<use href="#s2" y="59.5" fill="#32ff00"/>
<use href="#s2" y="61.5" fill="#32ff00"/>
<use href="#s2" y="63.5" fill="#32ff00"/>
<use href="#s2" y="65.5" fill="#32ff00"/>
<use href="#s2" y="67.5" fill="#32ff00"/>
<use href="#s2" y="69.5" fill="#32ff00"/>
<use href="#s2" y="71.5" fill="#32ff00"/>
<use href="#s2" y="73.5" fill="#32ff00"/>
<use href="#s2" y="75.5" fill="#32ff00"/>
<use href="#s2" y="77.5" fill="#32ff00"/>
<use href="#s2" y="79.5" fill="#32ff00"/>
<use href="#s2" y="81.5" fill="#32ff00"/>
<use href="#s2" y="83.5" fill="#32ff00"/>
<use href="#s2" y="85.5" fill="#32ff00"/>
<use href="#s2" y="87.5" fill="#32ff00"/>
<use href="#s2" y="89.5" fill="#32ff00"/>
<use href="#s2" y="91.5" fill="#32ff00"/>
<use href="#s2" y="93.5" fill="#32ff00"/>
<use href="#s2" y="95.5" fill="#32ff00"/>
<use href="#s2" y="97.5" fill="#32ff00"/>
<use href="#s2" y="99.5" fill="#32ff00"/>
<use href="#s2" y="101.5" fill="#32ff00"/>
<use href="#s3" y="-1.75" fill="#ff1e00"/>
<use href="#s3" y="-1.25" fill="#ff5000"/>
<use href="#s3" y="-0.75" fill="#ff9100"/>
<use href="#s3" y="-0.25" fill="#ffdc00"/>
<use href="#s3" y="0.25" fill="#edf200"/>
<use href="#s3" y="0.75" fill="#d6fb00"/>
<use href="#s3" y="1.25" fill="#c2ff00"/>
<use href="#s3" y="1.75" fill="#afff00"/>
<use href="#s3" y="2.5" fill="#d3ff00"/>
<use href="#s3" y="3.5" fill="#c4ff00"/>
<use href="#s3" y="5.5" fill="#a9ff00"/>
<use href="#s3" y="7.5" fill="#9fff00"/>
<use href="#s3" y="9.5" fill="#95ff00"/>
<use href="#s3" y="11.5" fill="#8cff00"/>
<use href="#s3" y="13.5" fill="#89ff00"/>
<use href="#s3" y="15.5" fill="#86ff00"/>
<use href="#s3" y="17.5" fill="#83ff00"/>
<use href="#s3" y="19.5" fill="#81ff00"/>
<use href="#s3" y="21.5" fill="#7eff00"/>
<use href="#s3" y="23.5" fill="#7bff00"/>
<use href="#s3" y="25.5" fill="#78ff00"/>
<use href="#s3" y="27.5" fill="#75ff00"/>
<use href="#s3" y="29.5" fill="#73ff00"/>
<use href="#s3" y="31.5" fill="#72ff00"/>
<use href="#s3" y="33.5" fill="#70ff00"/>
<use href="#s3" y="35.5" fill="#6fff00"/>
<use href="#s3" y="37.5" fill="#6eff00"/>
<use href="#s3" y="39.5" fill="#6cff00"/>
<use href="#s3" y="41.5" fill="#6bff00"/>
<use href="#s3" y="43.5" fill="#6aff00"/>
<use href="#s3" y="45.5" fill="#68ff00"/>
<use href="#s3" y="47.5" fill="#67ff00"/>
<use href="#s3" y="49.5" fill="#66ff00"/>
<use href="#s3" y="51.5" fill="#64ff00"/>
<use href="#s3" y="53.5" fill="#63ff00"/>
<use href="#s3" y="55.5" fill="#62ff00"/>
<use href="#s3" y="57.5" fill="#60ff00"/>
<use href="#s3" y="59.5" fill="#5fff00"/>
<use href="#s3" y="61.5" fill="#5fff00"/>
<use href="#s3" y="63.5" fill="#5fff00"/>
<use href="#s3" y="65.5" fill="#5fff00"/>
<use href="#s3" y="67.5" fill="#5fff00"/>
<use href="#s3" y="69.5" fill="#5fff00"/>
<use href="#s3" y="71.5" fill="#5fff00"/>
<use href="#s3" y="73.5" fill="#5fff00"/>
<use href="#s3" y="75.5" fill="#5fff00"/>
<use href="#s3" y="77.5" fill="#5fff00"/>
<use href="#s3" y="79.5" fill="#5fff00"/>
<use href="#s3" y="81.5" fill="#5fff00"/>
<use href="#s3" y="83.5" fill="#5fff00"/>
<use href="#s3" y="85.5" fill="#5fff00"/>
<use href="#s3" y="87.5" fill="#5fff00"/>
<use href="#s3" y="89.5" fill="#5fff00"/>
<use href="#s3" y="91.5" fill="#5fff00"/>
<use href="#s3" y="93.5" fill="#5fff00"/>
<use href="#s3" y="95.5" fill="#5fff00"/>
<use href="#s3" y="97.5" fill="#5fff00"/>
<use href="#s3" y="99.5" fill="#5fff00"/>
<use href="#s3" y="101.5" fill="#5fff00"/>
<use href="#s4" y="-1.75" fill="#ff1e00"/>
<use href="#s4" y="-1.25" fill="#ff5000"/>
<use href="#s4" y="-0.75" fill="#ff9100"/>
<use href="#s4" y="-0.25" fill="#ffdc00"/>
<use href="#s4" y="0.25" fill="#edf200"/>
<use href="#s4" y="0.75" fill="#d6fb00"/>
<use href="#s4" y="1.25" fill="#c2ff00"/>
<use href="#s4" y="1.75" fill="#afff00"/>
<use href="#s4" y="2.5" fill="#9bff00"/>
<use href="#s4" y="3.5" fill="#94ff00"/>
<use href="#s4" y="5.5" fill="#87ff00"/>
<use href="#s4" y="7.5" fill="#7aff00"/>
<use href="#s4" y="9.5" fill="#6dff00"/>
<use href="#s4" y="11.5" fill="#65ff00"/>
<use href="#s4" y="13.5" fill="#5dff00"/>
<use href="#s4" y="15.5" fill="#55ff00"/>
<use href="#s4" y="17.5" fill="#4dff00"/>
<use href="#s4" y="19.5" fill="#45ff00"/>
<use href="#s4" y="21.5" fill="#3dff00"/>
<use href="#s4" y="23.5" fill="#35ff00"/>
<use href="#s4" y="25.5" fill="#2dff00"/>
<use href="#s4" y="27.5" fill="#25ff00"/>
<use href="#s4" y="29.5" fill="#1dff00"/>
<use href="#s4" y="31.5" fill="#18ff02"/>
<use href="#s4" y="33.5" fill="#13ff04"/>
<use href="#s4" y="35.5" fill="#0eff05"/>
<use href="#s4" y="37.5" fill="#09ff07"/>
<use href="#s4" y="39.5" fill="#04ff09"/>
<use href="#s4" y="41.5" fill="#00ff0b"/>
<use href="#s4" y="43.5" fill="#00ff13"/>
<use href="#s4" y="45.5" fill="#00ff1a"/>
<use href="#s4" y="47.5" fill="#00ff22"/>
<use href="#s4" y="49.5" fill="#00ff2a"/>
<use href="#s4" y="51.5" fill="#00ff31"/>
<use href="#s4" y="53.5" fill="#00ff39"/>
<use href="#s4" y="55.5" fill="#00ff3e"/>
<use href="#s4" y="57.5" fill="#00ff42"/>
<use href="#s4" y="59.5" fill="#00ff45"/>
<use href="#s4" y="61.5" fill="#00ff48"/>
<use href="#s4" y="63.5" fill="#00ff4c"/>
<use href="#s4" y="65.5" fill="#00ff4f"/>
<use href="#s4" y="67.5" fill="#00ff53"/>
<use href="#s4" y="69.5" fill="#00ff56"/>
<use href="#s4" y="71.5" fill="#00ff5a"/>
<use href="#s4" y="73.5" fill="#00ff5d"/>
<use href="#s4" y="75.5" fill="#00ff60"/>
<use href="#s4" y="77.5" fill="#00ff64"/>
<use href="#s4" y="79.5" fill="#00ff67"/>
<use href="#s4" y="81.5" fill="#00ff6b"/>
<use href="#s4" y="83.5" fill="#00ff6e"/>
<use href="#s4" y="85.5" fill="#00ff72"/>
<use href="#s4" y="87.5" fill="#00ff75"/>
<use href="#s4" y="89.5" fill="#00ff78"/>
<use href="#s4" y="91.5" fill="#00ff78"/>
<use href="#s4" y="93.5" fill="#00ff78"/>
<use href="#s4" y="95.5" fill="#00ff78"/>
<use href="#s4" y="97.5" fill="#00ff78"/>
<use href="#s4" y="99.5" fill="#00ff78"/>
<use href="#s4" y="101.5" fill="#00ff78"/>
<clipPath id="c1"><use href="#s1" y="4"/></clipPath>
<linearGradient id="y1" x1="0" y1="0" x2="1" y2="0"><stop offset="0" stop-color="#70ff00" stop-opacity="0"/><stop offset="0.55" stop-color="#70ff00" stop-opacity="0.5"/><stop offset="1" stop-color="#78ff00" stop-opacity="0.62"/></linearGradient>
<g clip-path="url(#c1)"><rect x="225" y="360" width="127" height="80" fill="url(#y1)"/></g>
<clipPath id="c4"><use href="#s4" y="11"/></clipPath>
<clipPath id="c4b"><use href="#s4" y="3"/></clipPath>
<linearGradient id="g4" x1="0" y1="0" x2="1" y2="0"><stop offset="0" stop-color="#08ff10" stop-opacity="0.9"/><stop offset="0.5" stop-color="#08ff10" stop-opacity="0.6"/><stop offset="1" stop-color="#08ff10" stop-opacity="0"/></linearGradient>
<filter id="b2" x="-0.2" y="-0.5" width="1.4" height="2"><feGaussianBlur stdDeviation="0 3"/></filter>
<g clip-path="url(#c4b)"><g filter="url(#b2)"><g clip-path="url(#c4)"><rect x="520" y="370" width="170" height="90" fill="url(#g4)"/></g></g></g>
<filter id="b14" x="-0.5" y="-0.5" width="2" height="2"><feGaussianBlur stdDeviation="13"/></filter>
<filter id="b8" x="-0.5" y="-0.5" width="2" height="2"><feGaussianBlur stdDeviation="7"/></filter>
<filter id="b3" x="-0.5" y="-0.5" width="2" height="2"><feGaussianBlur stdDeviation="3"/></filter>
<filter id="b1" x="-0.5" y="-0.5" width="2" height="2"><feGaussianBlur stdDeviation="1.3"/></filter>
<g filter="url(#b14)" fill="#00ff98" opacity="0.75"><rect x="150" y="388" width="80" height="74"/><rect x="790" y="380" width="80" height="80"/></g>
<clipPath id="cm"><rect x="520" y="77" width="323" height="360"/></clipPath>
<g clip-path="url(#cm)"><rect x="500" y="414" width="150" height="50" fill="#00ffa0" opacity="0.8" filter="url(#b14)"/></g>
<g filter="url(#b8)" fill="#00f0ff" opacity="0.9"><rect x="160" y="404" width="56" height="50"/><rect x="798" y="396" width="60" height="56"/><rect x="541" y="411" width="70" height="42"/></g>
<linearGradient id="gR" x1="0" y1="0" x2="1" y2="0.5"><stop offset="0" stop-color="#30d0ff"/><stop offset="0.45" stop-color="#28a0ff"/><stop offset="0.78" stop-color="#1858ff"/><stop offset="1" stop-color="#1030ff"/></linearGradient>
<linearGradient id="gL" x1="1" y1="0" x2="0" y2="0.6"><stop offset="0" stop-color="#28b8ff"/><stop offset="0.5" stop-color="#1c78ff"/><stop offset="1" stop-color="#1030ff"/></linearGradient>
<linearGradient id="gM" x1="0" y1="0" x2="0" y2="1"><stop offset="0" stop-color="#2898ff"/><stop offset="1" stop-color="#1838ff"/></linearGradient>
<g filter="url(#b3)"><rect x="165" y="414" width="39" height="34" fill="url(#gL)"/><rect x="805" y="407" width="50" height="40" fill="url(#gR)"/><rect x="567" y="424" width="28" height="24" fill="url(#gM)"/></g>
<g filter="url(#b1)" fill="#1860ff"><rect x="548" y="427" width="5" height="14"/></g>
<rect x="556" y="398" width="6" height="38" fill="#50ff20" opacity="0.55" filter="url(#b1)"/>
<rect x="197" y="419" width="9" height="1" fill="#1038ff" opacity="0.3"/><rect x="198" y="423" width="8" height="1" fill="#28b0ff" opacity="0.3"/><rect x="198" y="414" width="5" height="1" fill="#30c0ff" opacity="0.3"/><rect x="196" y="420" width="8" height="1" fill="#1038ff" opacity="0.3"/><rect x="194" y="434" width="12" height="1" fill="#28b0ff" opacity="0.3"/><rect x="191" y="427" width="7" height="1" fill="#1038ff" opacity="0.3"/><rect x="183" y="432" width="13" height="1" fill="#30c0ff" opacity="0.3"/><rect x="200" y="412" width="6" height="1" fill="#1038ff" opacity="0.3"/><rect x="180" y="430" width="9" height="1" fill="#1030f0" opacity="0.3"/><rect x="194" y="420" width="11" height="1" fill="#30c0ff" opacity="0.3"/><rect x="197" y="424" width="9" height="1" fill="#1038ff" opacity="0.3"/><rect x="182" y="423" width="5" height="1" fill="#1038ff" opacity="0.3"/><rect x="185" y="427" width="9" height="1" fill="#30c0ff" opacity="0.3"/><rect x="188" y="432" width="11" height="1" fill="#28b0ff" opacity="0.3"/><rect x="197" y="424" width="9" height="1" fill="#28b0ff" opacity="0.3"/><rect x="192" y="430" width="8" height="1" fill="#20a0ff" opacity="0.3"/><rect x="179" y="433" width="9" height="1" fill="#28b0ff" opacity="0.3"/><rect x="184" y="433" width="10" height="1" fill="#28b0ff" opacity="0.3"/><rect x="197" y="430" width="6" height="1" fill="#1038ff" opacity="0.3"/><rect x="197" y="432" width="9" height="1" fill="#20a0ff" opacity="0.3"/><rect x="181" y="415" width="12" height="1" fill="#30c0ff" opacity="0.3"/><rect x="190" y="414" width="6" height="1" fill="#30c0ff" opacity="0.3"/><rect x="179" y="416" width="9" height="1" fill="#30c0ff" opacity="0.3"/><rect x="182" y="425" width="5" height="1" fill="#28b0ff" opacity="0.3"/><rect x="180" y="431" width="11" height="1" fill="#28b0ff" opacity="0.3"/><rect x="196" y="422" width="9" height="1" fill="#28b0ff" opacity="0.3"/><rect x="804" y="412" width="14" height="1" fill="#1030f0" opacity="0.3"/><rect x="808" y="407" width="6" height="1" fill="#1038ff" opacity="0.3"/><rect x="820" y="418" width="13" height="1" fill="#1038ff" opacity="0.3"/><rect x="804" y="427" width="15" height="1" fill="#20a0ff" opacity="0.3"/><rect x="810" y="416" width="17" height="1" fill="#30c0ff" opacity="0.3"/><rect x="835" y="419" width="7" height="1" fill="#28b0ff" opacity="0.3"/><rect x="808" y="426" width="13" height="1" fill="#30c0ff" opacity="0.3"/><rect x="817" y="425" width="14" height="1" fill="#30c0ff" opacity="0.3"/><rect x="835" y="413" width="7" height="1" fill="#28b0ff" opacity="0.3"/><rect x="802" y="415" width="18" height="1" fill="#28b0ff" opacity="0.3"/><rect x="803" y="415" width="17" height="1" fill="#28b0ff" opacity="0.3"/><rect x="810" y="423" width="6" height="1" fill="#20a0ff" opacity="0.3"/><rect x="824" y="419" width="16" height="1" fill="#28b0ff" opacity="0.3"/><rect x="819" y="427" width="20" height="1" fill="#1030f0" opacity="0.3"/><rect x="805" y="423" width="5" height="1" fill="#20a0ff" opacity="0.3"/><rect x="831" y="413" width="11" height="1" fill="#28b0ff" opacity="0.3"/><rect x="822" y="424" width="10" height="1" fill="#20a0ff" opacity="0.3"/><rect x="822" y="410" width="16" height="1" fill="#28b0ff" opacity="0.3"/><rect x="821" y="413" width="17" height="1" fill="#1030f0" opacity="0.3"/><rect x="803" y="429" width="9" height="1" fill="#20a0ff" opacity="0.3"/><rect x="816" y="421" width="13" height="1" fill="#1038ff" opacity="0.3"/><rect x="813" y="415" width="18" height="1" fill="#1030f0" opacity="0.3"/><rect x="822" y="408" width="15" height="1" fill="#1038ff" opacity="0.3"/><rect x="812" y="419" width="7" height="1" fill="#20a0ff" opacity="0.3"/><rect x="815" y="428" width="19" height="1" fill="#20a0ff" opacity="0.3"/><rect x="809" y="412" width="6" height="1" fill="#28b0ff" opacity="0.3"/><rect x="822" y="411" width="10" height="1" fill="#20a0ff" opacity="0.3"/><rect x="807" y="415" width="16" height="1" fill="#28b0ff" opacity="0.3"/><rect x="828" y="409" width="14" height="1" fill="#28b0ff" opacity="0.3"/><rect x="819" y="430" width="19" height="1" fill="#20a0ff" opacity="0.3"/><rect x="828" y="425" width="14" height="1" fill="#30c0ff" opacity="0.3"/><rect x="828" y="423" width="6" height="1" fill="#30c0ff" opacity="0.3"/><rect x="814" y="409" width="5" height="1" fill="#30c0ff" opacity="0.3"/><rect x="834" y="431" width="8" height="1" fill="#28b0ff" opacity="0.3"/><rect x="816" y="434" width="6" height="1" fill="#30c0ff" opacity="0.3"/><rect x="835" y="431" width="7" height="1" fill="#28b0ff" opacity="0.3"/><rect x="816" y="415" width="7" height="1" fill="#28b0ff" opacity="0.3"/><rect x="809" y="414" width="12" height="1" fill="#1030f0" opacity="0.3"/><rect x="834" y="406" width="8" height="1" fill="#30c0ff" opacity="0.3"/><rect x="805" y="423" width="5" height="1" fill="#30c0ff" opacity="0.3"/><rect x="568" y="433" width="7" height="1" fill="#28b0ff" opacity="0.3"/><rect x="572" y="426" width="15" height="1" fill="#1030f0" opacity="0.3"/><rect x="582" y="430" width="11" height="1" fill="#1030f0" opacity="0.3"/><rect x="568" y="431" width="10" height="1" fill="#1038ff" opacity="0.3"/><rect x="582" y="426" width="12" height="1" fill="#1030f0" opacity="0.3"/><rect x="572" y="427" width="8" height="1" fill="#1030f0" opacity="0.3"/><rect x="591" y="430" width="6" height="1" fill="#1038ff" opacity="0.3"/><rect x="590" y="425" width="7" height="1" fill="#1038ff" opacity="0.3"/><rect x="580" y="422" width="15" height="1" fill="#28b0ff" opacity="0.3"/><rect x="566" y="428" width="9" height="1" fill="#1038ff" opacity="0.3"/><rect x="584" y="426" width="13" height="1" fill="#28b0ff" opacity="0.3"/><rect x="566" y="428" width="12" height="1" fill="#20a0ff" opacity="0.3"/><rect x="591" y="434" width="5" height="1" fill="#1030f0" opacity="0.3"/><rect x="569" y="434" width="5" height="1" fill="#1030f0" opacity="0.3"/><rect x="567" y="422" width="12" height="1" fill="#1030f0" opacity="0.3"/><rect x="567" y="433" width="13" height="1" fill="#28b0ff" opacity="0.3"/>
<rect x="476" y="388" width="1" height="2" fill="#00e0a0"/>
</g>
<path d="M179.5 76.5H843.5V434.5H179.5Z" fill="none" stroke="#000" stroke-width="1"/>
<path d="M183.5 434v-3M183.5 77v3M205.5 434v-3M205.5 77v3M227.5 434v-7M227.5 77v7M249.5 434v-3M249.5 77v3M270.5 434v-3M270.5 77v3M292.5 434v-3M292.5 77v3M314.5 434v-3M314.5 77v3M336.5 434v-7M336.5 77v7M358.5 434v-3M358.5 77v3M380.5 434v-3M380.5 77v3M402.5 434v-3M402.5 77v3M423.5 434v-3M423.5 77v3M445.5 434v-7M445.5 77v7M467.5 434v-3M467.5 77v3M489.5 434v-3M489.5 77v3M511.5 434v-3M511.5 77v3M533.5 434v-3M533.5 77v3M555.5 434v-7M555.5 77v7M577.5 434v-3M577.5 77v3M598.5 434v-3M598.5 77v3M620.5 434v-3M620.5 77v3M642.5 434v-3M642.5 77v3M664.5 434v-7M664.5 77v7M686.5 434v-3M686.5 77v3M708.5 434v-3M708.5 77v3M730.5 434v-3M730.5 77v3M752.5 434v-3M752.5 77v3M773.5 434v-7M773.5 77v7M795.5 434v-3M795.5 77v3M817.5 434v-3M817.5 77v3M839.5 434v-3M839.5 77v3M180 426.5h6M843 426.5h-6M180 404.5h6M843 404.5h-6M180 382.5h6M843 382.5h-6M180 361.5h13M843 361.5h-13M180 339.5h6M843 339.5h-6M180 317.5h6M843 317.5h-6M180 295.5h6M843 295.5h-6M180 273.5h6M843 273.5h-6M180 251.5h13M843 251.5h-13M180 229.5h6M843 229.5h-6M180 208.5h6M843 208.5h-6M180 186.5h6M843 186.5h-6M180 164.5h6M843 164.5h-6M180 142.5h13M843 142.5h-13M180 120.5h6M843 120.5h-6M180 98.5h6M843 98.5h-6" stroke="#000" stroke-width="1" fill="none"/>
<path d="M490.5 8.5L490.5 18.5L496.5 18.5M500.5 18.5L499.5 18.5L498.5 17.5L498.5 15.5L498.5 14.5L498.5 13.5L499.5 12.5L500.5 11.5L501.5 11.5L502.5 12.5L503.5 13.5L504.5 14.5L504.5 15.5L503.5 17.5L502.5 18.5L501.5 18.5L500.5 18.5M512.5 17.5L511.5 18.5L510.5 18.5L509.5 18.5L508.5 18.5L507.5 17.5L506.5 15.5L506.5 14.5L507.5 13.5L508.5 12.5L509.5 11.5L510.5 11.5L511.5 12.5L512.5 13.5M512.5 11.5L512.5 19.5L512.5 20.5L511.5 21.5L510.5 21.5L509.5 21.5L508.5 21.5M517.5 22.5L517.5 16.5L516.5 17.5M522.5 22.5L521.5 21.5L521.5 19.5L521.5 17.5L522.5 16.5L523.5 16.5L524.5 16.5L524.5 17.5L525.5 19.5L524.5 21.5L524.5 22.5L523.5 22.5L522.5 22.5M239.5 48.5L246.5 48.5M249.5 45.5L249.5 44.5L250.5 43.5L252.5 43.5L253.5 43.5L253.5 44.5L253.5 45.5L253.5 46.5L252.5 47.5L248.5 51.5L254.5 51.5M256 50h1v1h-1zM263.5 51.5L264.5 51.5L264.5 50.5L265.5 49.5L265.5 48.5L264.5 48.5L264.5 47.5L263.5 46.5L261.5 46.5L260.5 46.5L260.5 45.5L260.5 44.5L260.5 43.5L261.5 43.5L263.5 43.5L264.5 43.5L264.5 44.5L264.5 45.5L264.5 46.5L263.5 46.5L262.5 46.5L261.5 47.5L260.5 48.5L260.5 49.5L260.5 50.5L260.5 51.5L261.5 51.5L263.5 51.5M270.5 51.5L270.5 43.5L269.5 44.5L268.5 45.5M324.5 48.5L331.5 48.5M334.5 45.5L334.5 44.5L335.5 43.5L337.5 43.5L338.5 43.5L338.5 44.5L338.5 45.5L338.5 46.5L337.5 47.5L334.5 51.5L339.5 51.5M341 50h1v1h-1zM347.5 51.5L346.5 51.5L345.5 49.5L345.5 48.5L345.5 46.5L345.5 45.5L346.5 43.5L347.5 43.5L348.5 43.5L349.5 43.5L349.5 45.5L350.5 46.5L350.5 48.5L349.5 49.5L349.5 51.5L348.5 51.5L347.5 51.5M352.5 43.5L357.5 43.5L353.5 51.5M409.5 48.5L416.5 48.5M422.5 51.5L422.5 43.5L420.5 44.5L420.5 45.5M426 50h1v1h-1zM430.5 43.5L434.5 43.5L432.5 46.5L433.5 46.5L434.5 46.5L434.5 47.5L435.5 48.5L435.5 49.5L434.5 50.5L434.5 51.5L433.5 51.5L432.5 51.5L430.5 51.5L430.5 50.5L430.5 49.5M438.5 43.5L442.5 43.5L440.5 46.5L441.5 46.5L442.5 46.5L442.5 47.5L442.5 48.5L442.5 49.5L442.5 50.5L441.5 51.5L440.5 51.5L439.5 51.5L438.5 51.5L437.5 50.5L437.5 49.5M494.5 48.5L501.5 48.5M506.5 51.5L505.5 51.5L504.5 49.5L504.5 48.5L504.5 46.5L504.5 45.5L505.5 43.5L506.5 43.5L507.5 43.5L508.5 43.5L508.5 45.5L509.5 46.5L509.5 48.5L508.5 49.5L508.5 51.5L507.5 51.5L506.5 51.5M511 50h1v1h-1zM515.5 49.5L515.5 50.5L515.5 51.5L517.5 51.5L518.5 51.5L519.5 51.5L520.5 50.5L520.5 49.5L520.5 48.5L520.5 47.5L519.5 46.5L518.5 46.5L517.5 46.5L515.5 46.5L515.5 43.5L519.5 43.5M524.5 48.5L523.5 48.5L523.5 47.5L522.5 46.5L522.5 45.5L523.5 44.5L523.5 43.5L524.5 43.5L525.5 43.5L526.5 43.5L527.5 44.5L527.5 46.5L527.5 47.5L526.5 48.5L525.5 48.5L524.5 48.5M527.5 46.5L527.5 48.5L527.5 49.5L526.5 51.5L525.5 51.5L524.5 51.5L523.5 51.5L523.5 50.5M586.5 51.5L585.5 51.5L584.5 49.5L584.5 48.5L584.5 46.5L584.5 45.5L585.5 43.5L586.5 43.5L587.5 43.5L588.5 43.5L589.5 45.5L589.5 46.5L589.5 48.5L589.5 49.5L588.5 51.5L587.5 51.5L586.5 51.5M592 50h1v1h-1zM598.5 51.5L598.5 43.5L597.5 44.5L596.5 45.5M602.5 49.5L603.5 50.5L603.5 51.5L604.5 51.5L605.5 51.5L606.5 51.5L607.5 50.5L608.5 49.5L608.5 48.5L607.5 47.5L606.5 46.5L605.5 46.5L604.5 46.5L603.5 46.5L603.5 43.5L607.5 43.5M671.5 51.5L670.5 51.5L669.5 49.5L669.5 48.5L669.5 46.5L669.5 45.5L670.5 43.5L671.5 43.5L672.5 43.5L673.5 43.5L674.5 45.5L674.5 46.5L674.5 48.5L674.5 49.5L673.5 51.5L672.5 51.5L671.5 51.5M677 50h1v1h-1zM683.5 51.5L685.5 51.5L685.5 50.5L685.5 49.5L685.5 48.5L684.5 47.5L683.5 46.5L682.5 46.5L681.5 46.5L680.5 45.5L680.5 44.5L681.5 43.5L682.5 43.5L683.5 43.5L685.5 43.5L685.5 44.5L685.5 45.5L685.5 46.5L684.5 46.5L682.5 46.5L681.5 47.5L680.5 48.5L680.5 49.5L680.5 50.5L681.5 51.5L682.5 51.5L683.5 51.5M690.5 48.5L689.5 48.5L688.5 47.5L687.5 46.5L687.5 45.5L688.5 44.5L689.5 43.5L690.5 43.5L691.5 43.5L692.5 44.5L692.5 46.5L692.5 47.5L691.5 48.5L690.5 48.5M692.5 46.5L692.5 48.5L692.5 49.5L691.5 51.5L690.5 51.5L689.5 51.5L688.5 51.5L688.5 50.5M757.5 51.5L757.5 43.5L756.5 44.5L755.5 45.5M762 50h1v1h-1zM766.5 48.5L766.5 50.5L767.5 51.5L768.5 51.5L769.5 51.5L770.5 50.5L770.5 49.5L770.5 48.5L770.5 47.5L769.5 46.5L768.5 46.5L767.5 46.5L766.5 47.5L766.5 48.5L766.5 46.5L766.5 45.5L767.5 43.5L768.5 43.5L770.5 43.5L770.5 44.5M773.5 43.5L777.5 43.5L775.5 46.5L776.5 46.5L777.5 46.5L777.5 47.5L778.5 48.5L778.5 49.5L777.5 50.5L777.5 51.5L775.5 51.5L774.5 51.5L773.5 51.5L773.5 50.5L773.5 49.5M301.5 58.5L301.5 69.5M309.5 58.5L309.5 69.5M301.5 63.5L309.5 63.5M313.5 58v1M313.5 62.5L313.5 69.5M317.5 62.5L317.5 69.5M317.5 64.5L319.5 62.5L320.5 62.5L321.5 62.5L322.5 62.5L323.5 64.5L323.5 69.5M329.5 69.5L328.5 68.5L327.5 67.5L327.5 66.5L327.5 65.5L327.5 63.5L328.5 62.5L329.5 62.5L331.5 62.5L332.5 62.5L333.5 63.5L334.5 65.5L334.5 66.5L333.5 67.5L332.5 68.5L331.5 69.5L329.5 69.5M343.5 58.5L343.5 69.5M343.5 67.5L342.5 68.5L341.5 69.5L339.5 69.5L338.5 68.5L337.5 67.5L337.5 66.5L337.5 65.5L337.5 63.5L338.5 62.5L339.5 62.5L341.5 62.5L342.5 62.5L343.5 63.5M347.5 65.5L347.5 63.5L348.5 62.5L349.5 62.5L351.5 62.5L352.5 62.5L352.5 63.5L353.5 64.5L353.5 65.5L347.5 65.5L347.5 66.5L347.5 67.5L348.5 68.5L349.5 69.5L351.5 69.5L352.5 68.5L353.5 67.5M365.5 67.5L366.5 68.5L367.5 69.5L369.5 69.5L371.5 68.5L372.5 67.5L372.5 66.5L371.5 65.5L371.5 64.5L370.5 64.5L367.5 63.5L366.5 62.5L365.5 62.5L365.5 61.5L365.5 60.5L366.5 59.5L367.5 58.5L369.5 58.5L371.5 59.5L372.5 60.5M378.5 69.5L377.5 68.5L376.5 67.5L376.5 66.5L375.5 65.5L375.5 62.5L376.5 61.5L376.5 60.5L377.5 59.5L378.5 58.5L380.5 58.5L381.5 59.5L382.5 60.5L383.5 61.5L383.5 62.5L383.5 65.5L383.5 66.5L382.5 67.5L381.5 68.5L380.5 69.5L378.5 69.5M386.5 58.5L393.5 58.5M389.5 58.5L389.5 69.5M404.5 56.5L394.5 73.5M407.5 67.5L408.5 68.5L409.5 69.5L411.5 69.5L413.5 68.5L414.5 67.5L414.5 66.5L413.5 65.5L413.5 64.5L412.5 64.5L409.5 63.5L408.5 62.5L407.5 62.5L407.5 61.5L407.5 60.5L408.5 59.5L409.5 58.5L411.5 58.5L413.5 59.5L414.5 60.5M418.5 69.5L418.5 58.5L422.5 58.5L424.5 59.5L425.5 60.5L425.5 62.5L424.5 63.5L422.5 64.5L418.5 64.5M437.5 64.5L446.5 64.5M467.5 69.5L467.5 58.5L463.5 69.5L459.5 58.5L459.5 69.5M478.5 69.5L472.5 69.5L472.5 58.5L478.5 58.5M472.5 63.5L476.5 63.5M482.5 69.5L482.5 58.5L486.5 58.5L488.5 59.5L489.5 60.5L489.5 61.5L488.5 62.5L488.5 63.5L486.5 63.5L482.5 63.5M485.5 63.5L489.5 69.5M493.5 58.5L493.5 69.5L499.5 69.5M502.5 58.5L502.5 69.5M513.5 58.5L513.5 69.5L506.5 58.5L506.5 69.5M526 62h1v1h-1zM526 68h1v1h-1zM539.5 69.5L539.5 58.5L543.5 58.5L545.5 59.5L546.5 60.5L546.5 61.5L547.5 62.5L547.5 65.5L546.5 66.5L546.5 67.5L545.5 68.5L543.5 69.5L539.5 69.5M550.5 65.5L550.5 63.5L552.5 62.5L553.5 62.5L554.5 62.5L555.5 62.5L556.5 63.5L556.5 64.5L556.5 65.5L550.5 65.5L550.5 66.5L550.5 67.5L552.5 68.5L553.5 69.5L554.5 69.5L555.5 68.5L556.5 67.5M566.5 67.5L565.5 68.5L564.5 69.5L562.5 69.5L561.5 68.5L560.5 67.5L559.5 66.5L559.5 65.5L560.5 63.5L561.5 62.5L562.5 62.5L564.5 62.5L565.5 62.5L566.5 63.5M566.5 62.5L566.5 70.5L565.5 72.5L564.5 73.5L562.5 73.5L561.5 72.5M570.5 62.5L570.5 69.5M570.5 65.5L570.5 63.5L571.5 62.5L573.5 62.5L574.5 62.5M576.5 65.5L577.5 63.5L578.5 62.5L579.5 62.5L580.5 62.5L581.5 62.5L582.5 63.5L583.5 64.5L583.5 65.5L576.5 65.5L576.5 66.5L577.5 67.5L578.5 68.5L579.5 69.5L580.5 69.5L581.5 68.5L583.5 67.5M586.5 65.5L586.5 63.5L587.5 62.5L588.5 62.5L590.5 62.5L591.5 62.5L591.5 63.5L592.5 64.5L592.5 65.5L586.5 65.5L586.5 66.5L586.5 67.5L587.5 68.5L588.5 69.5L590.5 69.5L591.5 68.5L592.5 67.5M606.5 69.5L605.5 68.5L604.5 67.5L604.5 66.5L604.5 65.5L604.5 63.5L605.5 62.5L606.5 62.5L608.5 62.5L609.5 62.5L610.5 63.5L610.5 65.5L610.5 66.5L610.5 67.5L609.5 68.5L608.5 69.5L606.5 69.5M615.5 69.5L615.5 60.5L615.5 59.5L616.5 58.5L617.5 58.5M613.5 62.5L617.5 62.5M629.5 69.5L629.5 58.5L633.5 58.5L635.5 59.5L636.5 59.5L636.5 60.5L636.5 62.5L636.5 63.5L635.5 63.5L633.5 64.5L629.5 64.5M642.5 69.5L641.5 68.5L640.5 67.5L639.5 66.5L639.5 65.5L640.5 63.5L641.5 62.5L642.5 62.5L643.5 62.5L644.5 62.5L646.5 63.5L646.5 65.5L646.5 66.5L646.5 67.5L644.5 68.5L643.5 69.5L642.5 69.5M650.5 58.5L650.5 69.5M660.5 67.5L659.5 68.5L658.5 69.5L656.5 69.5L655.5 68.5L654.5 67.5L653.5 66.5L653.5 65.5L654.5 63.5L655.5 62.5L656.5 62.5L658.5 62.5L659.5 62.5L660.5 63.5M660.5 62.5L660.5 69.5M664.5 62.5L664.5 69.5M664.5 65.5L664.5 63.5L666.5 62.5L667.5 62.5L668.5 62.5M670.5 58v1M671.5 62.5L671.5 69.5M674.5 62.5L680.5 62.5L674.5 69.5L680.5 69.5M690.5 67.5L689.5 68.5L688.5 69.5L686.5 69.5L685.5 68.5L684.5 67.5L683.5 66.5L683.5 65.5L684.5 63.5L685.5 62.5L686.5 62.5L688.5 62.5L689.5 62.5L690.5 63.5M690.5 62.5L690.5 69.5M694.5 58.5L694.5 67.5L695.5 68.5L696.5 69.5L697.5 69.5M693.5 62.5L696.5 62.5M700.5 58v1M700.5 62.5L700.5 69.5M706.5 69.5L705.5 68.5L704.5 67.5L704.5 66.5L704.5 65.5L704.5 63.5L705.5 62.5L706.5 62.5L708.5 62.5L709.5 62.5L710.5 63.5L711.5 65.5L711.5 66.5L710.5 67.5L709.5 68.5L708.5 69.5L706.5 69.5M714.5 62.5L714.5 69.5M714.5 64.5L716.5 62.5L717.5 62.5L719.5 62.5L720.5 62.5L720.5 64.5L720.5 69.5M210.5 448.5L218.5 448.5M224.5 452.5L224.5 443.5L223.5 444.5L222.5 445.5M229.5 450.5L230.5 451.5L230.5 452.5L231.5 452.5L233.5 452.5L234.5 452.5L235.5 451.5L235.5 449.5L235.5 447.5L234.5 446.5L233.5 446.5L231.5 446.5L230.5 446.5L230.5 447.5L230.5 443.5L234.5 443.5M240.5 452.5L239.5 452.5L238.5 450.5L238.5 448.5L238.5 447.5L238.5 445.5L239.5 443.5L240.5 443.5L241.5 443.5L242.5 443.5L243.5 445.5L244.5 447.5L244.5 448.5L243.5 450.5L242.5 452.5L241.5 452.5L240.5 452.5M320.5 448.5L327.5 448.5M334.5 452.5L334.5 443.5L332.5 444.5L331.5 445.5M341.5 452.5L340.5 452.5L339.5 450.5L339.5 448.5L339.5 447.5L339.5 445.5L340.5 443.5L341.5 443.5L342.5 443.5L343.5 443.5L344.5 445.5L345.5 447.5L345.5 448.5L344.5 450.5L343.5 452.5L342.5 452.5L341.5 452.5M350.5 452.5L348.5 452.5L348.5 450.5L347.5 448.5L347.5 447.5L348.5 445.5L348.5 443.5L350.5 443.5L351.5 443.5L352.5 443.5L353.5 445.5L353.5 447.5L353.5 448.5L353.5 450.5L352.5 452.5L351.5 452.5L350.5 452.5M433.5 448.5L441.5 448.5M444.5 450.5L444.5 451.5L445.5 452.5L446.5 452.5L447.5 452.5L448.5 452.5L449.5 451.5L450.5 449.5L449.5 447.5L448.5 446.5L447.5 446.5L446.5 446.5L445.5 446.5L444.5 447.5L445.5 443.5L449.5 443.5M455.5 452.5L454.5 452.5L453.5 450.5L452.5 448.5L452.5 447.5L453.5 445.5L454.5 443.5L455.5 443.5L456.5 443.5L457.5 443.5L458.5 445.5L458.5 447.5L458.5 448.5L458.5 450.5L457.5 452.5L456.5 452.5L455.5 452.5M554.5 452.5L553.5 452.5L552.5 450.5L552.5 448.5L552.5 447.5L552.5 445.5L553.5 443.5L554.5 443.5L555.5 443.5L556.5 443.5L557.5 445.5L558.5 447.5L558.5 448.5L557.5 450.5L556.5 452.5L555.5 452.5L554.5 452.5M657.5 450.5L657.5 451.5L658.5 452.5L659.5 452.5L660.5 452.5L662.5 452.5L662.5 451.5L663.5 449.5L662.5 447.5L662.5 446.5L660.5 446.5L659.5 446.5L658.5 446.5L657.5 447.5L658.5 443.5L662.5 443.5M668.5 452.5L667.5 452.5L666.5 450.5L665.5 448.5L665.5 447.5L666.5 445.5L667.5 443.5L668.5 443.5L669.5 443.5L670.5 443.5L671.5 445.5L671.5 447.5L671.5 448.5L671.5 450.5L670.5 452.5L669.5 452.5L668.5 452.5M765.5 452.5L765.5 443.5L764.5 444.5L763.5 445.5M773.5 452.5L772.5 452.5L771.5 450.5L771.5 448.5L771.5 447.5L771.5 445.5L772.5 443.5L773.5 443.5L774.5 443.5L775.5 443.5L776.5 445.5L776.5 447.5L776.5 448.5L776.5 450.5L775.5 452.5L774.5 452.5L773.5 452.5M782.5 452.5L780.5 452.5L779.5 450.5L779.5 448.5L779.5 447.5L779.5 445.5L780.5 443.5L782.5 443.5L784.5 443.5L785.5 445.5L785.5 447.5L785.5 448.5L785.5 450.5L784.5 452.5L782.5 452.5M140.5 143.5L148.5 143.5M153.5 144.5L152.5 143.5L151.5 142.5L151.5 141.5L151.5 139.5L152.5 138.5L153.5 138.5L154.5 138.5L155.5 138.5L156.5 139.5L156.5 141.5L156.5 142.5L155.5 143.5L154.5 144.5L153.5 144.5M156.5 141.5L156.5 143.5L156.5 145.5L155.5 147.5L154.5 147.5L153.5 147.5L151.5 147.5L151.5 146.5M162.5 147.5L160.5 147.5L160.5 145.5L159.5 143.5L159.5 142.5L160.5 140.5L160.5 138.5L162.5 138.5L163.5 138.5L164.5 138.5L165.5 140.5L165.5 142.5L165.5 143.5L165.5 145.5L164.5 147.5L163.5 147.5L162.5 147.5M170.5 147.5L169.5 147.5L168.5 145.5L168.5 143.5L168.5 142.5L168.5 140.5L169.5 138.5L170.5 138.5L171.5 138.5L172.5 138.5L173.5 140.5L174.5 142.5L174.5 143.5L173.5 145.5L172.5 147.5L171.5 147.5L170.5 147.5M140.5 252.5L148.5 252.5M153.5 253.5L152.5 252.5L151.5 251.5L151.5 250.5L151.5 248.5L152.5 247.5L153.5 247.5L154.5 247.5L155.5 247.5L156.5 248.5L156.5 250.5L156.5 251.5L155.5 252.5L154.5 253.5L153.5 253.5M156.5 250.5L156.5 252.5L156.5 254.5L155.5 256.5L154.5 256.5L153.5 256.5L151.5 256.5L151.5 255.5M159.5 254.5L160.5 255.5L160.5 256.5L161.5 256.5L163.5 256.5L164.5 256.5L165.5 255.5L165.5 253.5L165.5 251.5L164.5 250.5L163.5 250.5L161.5 250.5L160.5 250.5L160.5 251.5L160.5 247.5L164.5 247.5M170.5 256.5L169.5 256.5L168.5 254.5L168.5 252.5L168.5 251.5L168.5 249.5L169.5 247.5L170.5 247.5L171.5 247.5L172.5 247.5L173.5 249.5L174.5 251.5L174.5 252.5L173.5 254.5L172.5 256.5L171.5 256.5L170.5 256.5M132.5 361.5L139.5 361.5M146.5 365.5L146.5 356.5L144.5 357.5L143.5 358.5M153.5 365.5L152.5 365.5L151.5 363.5L151.5 361.5L151.5 360.5L151.5 358.5L152.5 356.5L153.5 356.5L154.5 356.5L155.5 356.5L156.5 358.5L157.5 360.5L157.5 361.5L156.5 363.5L155.5 365.5L154.5 365.5L153.5 365.5M162.5 365.5L160.5 365.5L160.5 363.5L159.5 361.5L159.5 360.5L160.5 358.5L160.5 356.5L162.5 356.5L163.5 356.5L164.5 356.5L165.5 358.5L165.5 360.5L165.5 361.5L165.5 363.5L164.5 365.5L163.5 365.5L162.5 365.5M170.5 365.5L169.5 365.5L168.5 363.5L168.5 361.5L168.5 360.5L168.5 358.5L169.5 356.5L170.5 356.5L171.5 356.5L172.5 356.5L173.5 358.5L174.5 360.5L174.5 361.5L173.5 363.5L172.5 365.5L171.5 365.5L170.5 365.5M461.5 459.5L467.5 468.5M467.5 459.5L461.5 468.5M480.5 457.5L479.5 458.5L478.5 459.5L478.5 461.5L477.5 463.5L477.5 465.5L478.5 467.5L478.5 469.5L479.5 470.5L480.5 471.5M489.5 468.5L485.5 459.5L482.5 468.5M483.5 465.5L487.5 465.5M491.5 462.5L491.5 468.5M491.5 465.5L491.5 463.5L492.5 462.5L493.5 462.5L494.5 462.5M501.5 467.5L500.5 468.5L499.5 468.5L498.5 468.5L497.5 468.5L496.5 467.5L496.5 465.5L496.5 463.5L497.5 462.5L498.5 462.5L499.5 462.5L500.5 462.5L501.5 463.5M503.5 467.5L504.5 468.5L505.5 468.5L506.5 468.5L508.5 468.5L508.5 467.5L508.5 466.5L508.5 465.5L507.5 465.5L505.5 465.5L504.5 464.5L503.5 463.5L504.5 462.5L505.5 462.5L506.5 462.5L508.5 462.5L508.5 463.5M511.5 465.5L511.5 463.5L512.5 462.5L513.5 462.5L514.5 462.5L515.5 462.5L515.5 463.5L516.5 464.5L516.5 465.5L511.5 465.5L511.5 467.5L512.5 468.5L513.5 468.5L514.5 468.5L515.5 468.5L516.5 467.5M523.5 467.5L522.5 468.5L520.5 468.5L519.5 468.5L519.5 467.5L518.5 465.5L519.5 463.5L519.5 462.5L520.5 462.5L522.5 462.5L523.5 463.5M528.5 468.5L527.5 468.5L526.5 467.5L526.5 465.5L526.5 463.5L527.5 462.5L528.5 462.5L529.5 462.5L530.5 462.5L531.5 463.5L531.5 465.5L531.5 467.5L530.5 468.5L529.5 468.5L528.5 468.5M534.5 462.5L534.5 468.5M534.5 464.5L536.5 462.5L538.5 462.5L539.5 462.5L539.5 464.5L539.5 468.5M547.5 459.5L547.5 468.5M547.5 467.5L546.5 468.5L545.5 468.5L544.5 468.5L543.5 468.5L542.5 467.5L542.5 465.5L542.5 463.5L543.5 462.5L544.5 462.5L545.5 462.5L546.5 462.5L547.5 463.5M550.5 467.5L550.5 468.5L552.5 468.5L553.5 468.5L554.5 468.5L555.5 467.5L555.5 466.5L554.5 465.5L553.5 465.5L551.5 465.5L550.5 464.5L550.5 463.5L550.5 462.5L552.5 462.5L553.5 462.5L554.5 462.5L555.5 463.5M557.5 457.5L558.5 458.5L559.5 459.5L560.5 461.5L560.5 463.5L560.5 465.5L560.5 467.5L559.5 469.5L558.5 470.5L557.5 471.5M417.5 479.5L417.5 478.5L417.5 477.5L418.5 477.5L420.5 477.5L421.5 477.5L421.5 478.5L422.5 479.5L421.5 480.5L420.5 481.5L416.5 485.5L422.5 485.5M428.5 485.5L428.5 477.5L427.5 478.5L426.5 479.5M433.5 482.5L441.5 482.5M444.5 485.5L444.5 477.5L450.5 477.5M444.5 481.5L448.5 481.5M452.5 482.5L452.5 481.5L453.5 480.5L454.5 480.5L455.5 480.5L456.5 480.5L457.5 481.5L457.5 482.5L452.5 482.5L452.5 483.5L452.5 484.5L453.5 485.5L454.5 485.5L455.5 485.5L456.5 485.5L457.5 484.5M460.5 477.5L460.5 485.5M460.5 481.5L461.5 480.5L463.5 480.5L464.5 481.5L465.5 482.5L465.5 483.5L464.5 484.5L463.5 485.5L461.5 485.5L460.5 484.5M468.5 482.5L475.5 482.5M479.5 479.5L479.5 478.5L480.5 477.5L482.5 477.5L483.5 477.5L483.5 478.5L484.5 479.5L483.5 480.5L483.5 481.5L478.5 485.5L484.5 485.5M489.5 485.5L488.5 485.5L487.5 483.5L487.5 482.5L487.5 480.5L487.5 479.5L488.5 477.5L489.5 477.5L490.5 477.5L491.5 477.5L492.5 479.5L493.5 480.5L493.5 482.5L492.5 483.5L491.5 485.5L490.5 485.5L489.5 485.5M496.5 479.5L496.5 478.5L496.5 477.5L497.5 477.5L499.5 477.5L500.5 477.5L500.5 478.5L501.5 479.5L500.5 480.5L499.5 481.5L495.5 485.5L501.5 485.5M508.5 485.5L508.5 477.5L504.5 482.5L510.5 482.5M522.5 485.5L522.5 477.5L521.5 478.5L520.5 479.5M532.5 485.5L532.5 477.5L527.5 482.5L534.5 482.5M536 480h1v1h-1zM536 484h1v1h-1zM542.5 485.5L541.5 485.5L540.5 483.5L540.5 482.5L540.5 480.5L540.5 479.5L541.5 477.5L542.5 477.5L543.5 477.5L545.5 477.5L545.5 479.5L546.5 480.5L546.5 482.5L545.5 483.5L545.5 485.5L543.5 485.5L542.5 485.5M551.5 485.5L550.5 485.5L549.5 483.5L548.5 482.5L548.5 480.5L549.5 479.5L550.5 477.5L551.5 477.5L552.5 477.5L553.5 477.5L554.5 479.5L554.5 480.5L554.5 482.5L554.5 483.5L553.5 485.5L552.5 485.5L551.5 485.5M557 480h1v1h-1zM557 484h1v1h-1zM564.5 485.5L562.5 485.5L562.5 483.5L561.5 482.5L561.5 480.5L562.5 479.5L562.5 477.5L564.5 477.5L566.5 477.5L567.5 479.5L567.5 480.5L567.5 482.5L567.5 483.5L566.5 485.5L564.5 485.5M570.5 483.5L570.5 484.5L570.5 485.5L572.5 485.5L573.5 485.5L574.5 485.5L575.5 484.5L575.5 483.5L575.5 482.5L575.5 481.5L574.5 480.5L573.5 480.5L572.5 480.5L570.5 480.5L570.5 477.5L575.5 477.5M578 484h1v1h-1zM583.5 479.5L583.5 478.5L583.5 477.5L584.5 477.5L586.5 477.5L587.5 477.5L587.5 478.5L588.5 479.5L587.5 480.5L586.5 481.5L582.5 485.5L588.5 485.5M592.5 477.5L596.5 477.5L594.5 480.5L595.5 480.5L596.5 480.5L596.5 481.5L597.5 482.5L597.5 483.5L596.5 484.5L595.5 485.5L594.5 485.5L593.5 485.5L592.5 485.5L591.5 484.5L591.5 483.5M602.5 482.5L600.5 482.5L600.5 481.5L599.5 480.5L599.5 479.5L600.5 478.5L600.5 477.5L602.5 477.5L603.5 477.5L604.5 478.5L605.5 480.5L604.5 481.5L603.5 482.5L602.5 482.5M605.5 480.5L605.5 482.5L604.5 483.5L603.5 485.5L602.5 485.5L601.5 485.5L600.5 485.5L600.5 484.5M110.5 306.5L114.5 302.5L110.5 299.5M114.5 302.5L119.5 302.5M108.5 287.5L109.5 288.5L110.5 289.5L112.5 290.5L114.5 290.5L116.5 290.5L118.5 290.5L120.5 289.5L121.5 288.5L122.5 287.5M119.5 278.5L110.5 282.5L119.5 285.5M116.5 284.5L116.5 280.5M113.5 276.5L119.5 276.5M116.5 276.5L114.5 276.5L113.5 275.5L113.5 274.5L113.5 273.5M118.5 266.5L119.5 267.5L119.5 268.5L119.5 269.5L119.5 270.5L118.5 271.5L116.5 271.5L114.5 271.5L113.5 270.5L113.5 269.5L113.5 268.5L113.5 267.5L114.5 266.5M118.5 264.5L119.5 263.5L119.5 262.5L119.5 261.5L119.5 259.5L118.5 259.5L117.5 259.5L116.5 259.5L116.5 260.5L116.5 262.5L115.5 263.5L114.5 264.5L113.5 263.5L113.5 262.5L113.5 261.5L113.5 259.5L114.5 259.5M116.5 256.5L114.5 256.5L113.5 255.5L113.5 254.5L113.5 253.5L113.5 252.5L114.5 252.5L115.5 251.5L116.5 251.5L116.5 256.5L118.5 256.5L119.5 255.5L119.5 254.5L119.5 253.5L119.5 252.5L118.5 251.5M118.5 244.5L119.5 245.5L119.5 247.5L119.5 248.5L118.5 248.5L116.5 249.5L114.5 248.5L113.5 248.5L113.5 247.5L113.5 245.5L114.5 244.5M119.5 239.5L119.5 240.5L118.5 241.5L116.5 241.5L114.5 241.5L113.5 240.5L113.5 239.5L113.5 238.5L113.5 237.5L114.5 236.5L116.5 236.5L118.5 236.5L119.5 237.5L119.5 238.5L119.5 239.5M113.5 233.5L119.5 233.5M115.5 233.5L113.5 231.5L113.5 229.5L113.5 228.5L115.5 228.5L119.5 228.5M110.5 220.5L119.5 220.5M118.5 220.5L119.5 221.5L119.5 222.5L119.5 223.5L119.5 224.5L118.5 225.5L116.5 225.5L114.5 225.5L113.5 224.5L113.5 223.5L113.5 222.5L113.5 221.5L114.5 220.5M118.5 217.5L119.5 217.5L119.5 215.5L119.5 214.5L119.5 213.5L118.5 212.5L117.5 212.5L116.5 213.5L116.5 214.5L116.5 216.5L115.5 217.5L114.5 217.5L113.5 217.5L113.5 215.5L113.5 214.5L113.5 213.5L114.5 212.5M108.5 210.5L109.5 209.5L110.5 208.5L112.5 207.5L114.5 207.5L116.5 207.5L118.5 207.5L120.5 208.5L121.5 209.5L122.5 210.5" fill="none" stroke="#000" stroke-width="1" stroke-linecap="square"/>
</svg></body></html>
